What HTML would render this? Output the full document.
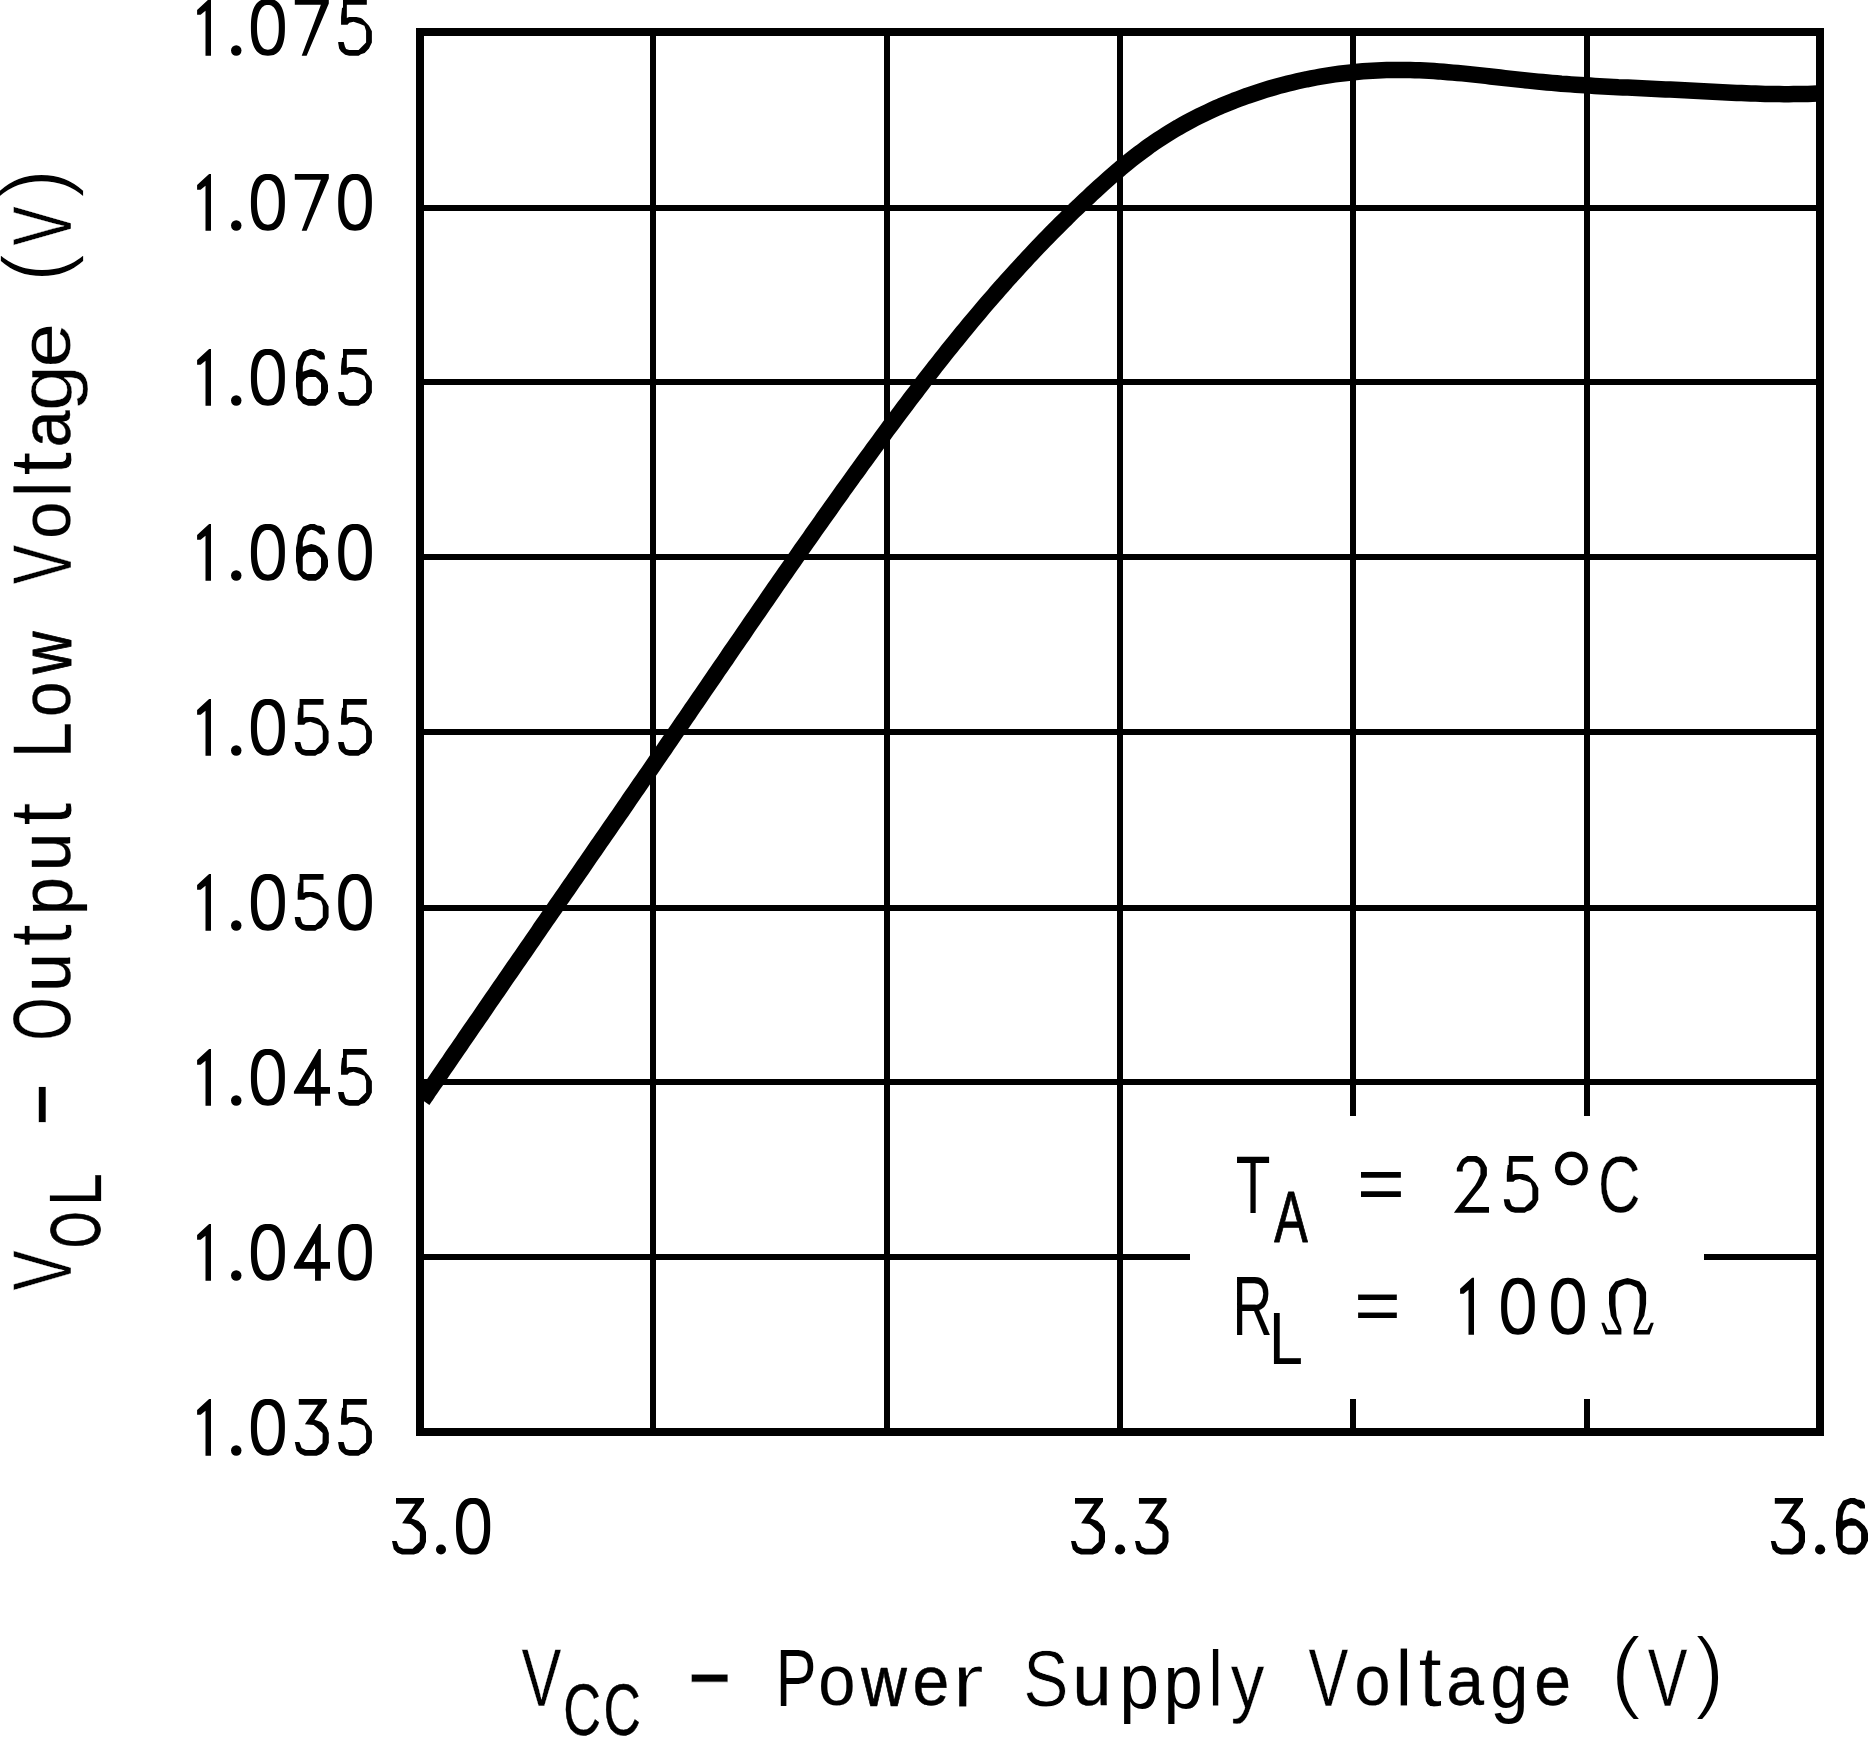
<!DOCTYPE html>
<html><head><meta charset="utf-8"><title>VOL vs VCC</title>
<style>
html,body{margin:0;padding:0;background:#fff;}
body{width:1868px;height:1737px;overflow:hidden;}
svg{display:block;}
text{font-family:"Liberation Sans",sans-serif;font-size:80.0px;fill:#000;}
</style></head><body>
<svg width="1868" height="1737" viewBox="0 0 1868 1737">
<rect x="0" y="0" width="1868" height="1737" fill="#fff"/>
<g fill="#000">
<rect x="650" y="32" width="6" height="1400"/>
<rect x="884" y="32" width="6" height="1400"/>
<rect x="1117" y="32" width="6" height="1400"/>
<rect x="1350" y="32" width="6" height="1084"/>
<rect x="1350" y="1399" width="6" height="33"/>
<rect x="1584" y="32" width="6" height="1084"/>
<rect x="1584" y="1399" width="6" height="33"/>
<rect x="420" y="205" width="1400" height="6"/>
<rect x="420" y="379" width="1400" height="6"/>
<rect x="420" y="554" width="1400" height="6"/>
<rect x="420" y="729" width="1400" height="6"/>
<rect x="420" y="905" width="1400" height="6"/>
<rect x="420" y="1079" width="1400" height="6"/>
<rect x="420" y="1254" width="770" height="6"/>
<rect x="1704" y="1254" width="116" height="6"/>
</g>
<path d="M422.6,1100.3 L425.3,1096.4 L427.9,1092.4 L430.6,1088.5 L433.3,1084.6 L436.0,1080.7 L438.6,1076.8 L441.3,1072.8 L444.0,1068.9 L446.7,1065.0 L449.4,1061.1 L452.0,1057.2 L454.7,1053.3 L457.4,1049.4 L460.1,1045.5 L462.8,1041.5 L465.4,1037.6 L468.1,1033.7 L470.8,1029.8 L473.5,1025.9 L476.2,1022.0 L478.9,1018.1 L481.6,1014.2 L484.2,1010.3 L486.9,1006.3 L489.6,1002.4 L492.3,998.5 L495.0,994.6 L497.7,990.7 L500.4,986.8 L503.1,982.9 L505.7,979.0 L508.4,975.1 L511.1,971.2 L513.8,967.3 L516.5,963.4 L519.2,959.5 L521.9,955.6 L524.6,951.7 L527.3,947.8 L530.0,943.9 L532.7,940.0 L535.4,936.0 L538.1,932.1 L540.7,928.2 L543.4,924.3 L546.1,920.4 L548.8,916.5 L551.5,912.6 L554.2,908.7 L556.9,904.8 L559.6,900.9 L562.3,897.0 L565.0,893.1 L567.7,889.2 L570.4,885.3 L573.1,881.4 L575.8,877.5 L578.5,873.6 L581.2,869.7 L583.9,865.8 L586.6,861.9 L589.2,858.0 L591.9,854.1 L594.6,850.2 L597.3,846.3 L600.0,842.4 L602.7,838.5 L605.4,834.6 L608.1,830.7 L610.8,826.8 L613.5,822.9 L616.2,819.0 L618.9,815.1 L621.6,811.2 L624.3,807.3 L627.0,803.3 L629.6,799.4 L632.3,795.5 L635.0,791.6 L637.7,787.7 L640.4,783.8 L643.1,779.9 L645.8,776.0 L648.5,772.1 L651.2,768.2 L653.9,764.3 L656.5,760.4 L659.2,756.5 L661.9,752.6 L664.6,748.7 L667.3,744.7 L670.0,740.8 L672.7,736.9 L675.3,733.0 L678.0,729.1 L680.7,725.2 L683.4,721.3 L686.1,717.4 L688.8,713.5 L691.4,709.5 L694.1,705.6 L696.8,701.7 L699.5,697.8 L702.2,693.9 L704.8,690.0 L707.5,686.1 L710.2,682.1 L712.9,678.2 L715.5,674.3 L718.2,670.4 L720.9,666.5 L723.6,662.6 L726.3,658.7 L728.9,654.7 L731.6,650.8 L734.3,646.9 L737.0,643.0 L739.7,639.1 L742.4,635.2 L745.0,631.3 L747.7,627.4 L750.4,623.4 L753.1,619.5 L755.8,615.6 L758.5,611.7 L761.2,607.8 L763.9,603.9 L766.6,600.0 L769.2,596.1 L771.9,592.2 L774.6,588.3 L777.3,584.4 L780.0,580.5 L782.7,576.6 L785.4,572.7 L788.2,568.8 L790.9,564.9 L793.6,561.0 L796.3,557.1 L799.0,553.2 L801.7,549.3 L804.4,545.5 L807.1,541.6 L809.9,537.7 L812.6,533.8 L815.3,529.9 L818.1,526.0 L820.8,522.2 L823.5,518.3 L826.3,514.4 L829.0,510.6 L831.7,506.7 L834.5,502.8 L837.2,499.0 L840.0,495.1 L842.7,491.2 L845.5,487.4 L848.3,483.5 L851.0,479.7 L853.8,475.8 L856.6,472.0 L859.4,468.1 L862.1,464.3 L864.9,460.5 L867.7,456.6 L870.5,452.8 L873.3,448.9 L876.1,445.1 L878.9,441.3 L881.7,437.5 L884.5,433.7 L887.3,429.8 L890.1,426.0 L893.0,422.2 L895.8,418.4 L898.6,414.6 L901.5,410.8 L904.3,407.0 L907.2,403.2 L910.0,399.4 L912.9,395.7 L915.8,391.9 L918.6,388.1 L921.5,384.4 L924.4,380.6 L927.3,376.8 L930.2,373.1 L933.1,369.4 L936.0,365.6 L939.0,361.9 L941.9,358.2 L944.8,354.5 L947.8,350.7 L950.8,347.0 L953.7,343.4 L956.7,339.7 L959.7,336.0 L962.7,332.3 L965.7,328.7 L968.7,325.0 L971.8,321.3 L974.8,317.7 L977.9,314.1 L980.9,310.5 L984.0,306.8 L987.1,303.2 L990.2,299.6 L993.3,296.1 L996.4,292.5 L999.5,288.9 L1002.7,285.4 L1005.8,281.8 L1009.0,278.3 L1012.2,274.8 L1015.4,271.2 L1018.6,267.7 L1021.8,264.2 L1025.0,260.8 L1028.2,257.3 L1031.5,253.8 L1034.7,250.4 L1038.0,246.9 L1041.3,243.5 L1044.6,240.1 L1047.9,236.7 L1051.2,233.3 L1054.6,229.9 L1057.9,226.6 L1061.3,223.2 L1064.7,219.9 L1068.0,216.5 L1071.4,213.2 L1074.8,209.9 L1078.3,206.7 L1081.7,203.4 L1085.2,200.1 L1088.6,196.9 L1092.1,193.6 L1095.6,190.4 L1099.1,187.2 L1102.6,184.0 L1106.1,180.9 L1109.7,177.7 L1113.2,174.6 L1116.8,171.5 L1120.4,168.4 L1124.1,165.4 L1127.7,162.4 L1131.4,159.4 L1135.1,156.5 L1138.9,153.6 L1142.7,150.8 L1146.5,148.0 L1150.3,145.2 L1154.2,142.5 L1158.1,139.9 L1162.1,137.3 L1166.1,134.8 L1170.1,132.3 L1174.2,129.8 L1178.2,127.4 L1182.4,125.1 L1186.5,122.8 L1190.7,120.5 L1194.9,118.3 L1199.1,116.2 L1203.4,114.1 L1207.6,112.1 L1212.0,110.1 L1216.3,108.1 L1220.6,106.2 L1225.0,104.4 L1229.4,102.6 L1233.8,100.8 L1238.3,99.1 L1242.7,97.5 L1247.2,95.8 L1251.7,94.3 L1256.2,92.8 L1260.7,91.3 L1265.2,89.9 L1269.8,88.5 L1274.3,87.2 L1278.9,85.9 L1283.5,84.7 L1288.1,83.5 L1292.7,82.4 L1297.4,81.3 L1302.0,80.3 L1306.6,79.3 L1311.3,78.4 L1316.0,77.5 L1320.6,76.7 L1325.3,75.9 L1330.0,75.1 L1334.7,74.4 L1339.4,73.8 L1344.1,73.2 L1348.8,72.7 L1353.5,72.2 L1358.3,71.7 L1363.0,71.3 L1367.7,71.0 L1372.4,70.7 L1377.2,70.4 L1381.9,70.2 L1386.6,70.1 L1391.4,70.0 L1396.1,69.9 L1400.8,69.9 L1405.6,69.9 L1410.3,70.0 L1415.0,70.2 L1419.8,70.3 L1424.5,70.6 L1429.2,70.8 L1433.9,71.1 L1438.7,71.4 L1443.4,71.8 L1448.1,72.2 L1452.8,72.6 L1457.6,73.0 L1462.3,73.4 L1467.0,73.9 L1471.7,74.4 L1476.4,74.9 L1481.2,75.4 L1485.9,75.9 L1490.6,76.5 L1495.3,77.0 L1500.0,77.5 L1504.8,78.1 L1509.5,78.6 L1514.2,79.1 L1518.9,79.6 L1523.7,80.1 L1528.4,80.6 L1533.1,81.1 L1537.8,81.6 L1542.5,82.0 L1547.3,82.5 L1552.0,82.9 L1556.7,83.3 L1561.4,83.7 L1566.2,84.0 L1570.9,84.4 L1575.6,84.7 L1580.4,85.0 L1585.1,85.3 L1589.8,85.6 L1594.6,85.9 L1599.3,86.2 L1604.0,86.4 L1608.8,86.7 L1613.5,86.9 L1618.2,87.2 L1623.0,87.4 L1627.7,87.6 L1632.4,87.8 L1637.2,88.1 L1641.9,88.3 L1646.6,88.5 L1651.4,88.7 L1656.1,88.9 L1660.8,89.2 L1665.6,89.4 L1670.3,89.6 L1675.0,89.8 L1679.8,90.1 L1684.5,90.3 L1689.3,90.5 L1694.0,90.8 L1698.7,91.0 L1703.5,91.3 L1708.2,91.5 L1713.0,91.8 L1717.7,92.0 L1722.4,92.2 L1727.2,92.5 L1731.9,92.7 L1736.7,92.9 L1741.4,93.1 L1746.1,93.3 L1750.9,93.5 L1755.6,93.6 L1760.4,93.8 L1765.1,93.9 L1769.8,94.0 L1774.6,94.1 L1779.3,94.1 L1784.1,94.2 L1788.8,94.2 L1793.5,94.1 L1798.3,94.1 L1803.0,94.0 L1807.8,93.9 L1812.5,93.8 L1817.3,93.6 L1822.0,93.4" fill="none" stroke="#000" stroke-width="16.5" stroke-linejoin="round"/>
<rect x="420" y="32" width="1400" height="1400" fill="none" stroke="#000" stroke-width="8"/>
<g fill="#000">
<path fill-rule="evenodd" d="M197.10,9.92 L209.10,-1.10 L211.00,-1.10 L211.00,55.70 L205.50,55.70 L205.50,10.72 L200.60,14.73 L197.10,14.73Z"/>
<circle cx="236.25" cy="50.45" r="5.25"/>
<path fill-rule="evenodd" d="M284.90,27.30 L284.85,31.33 L284.69,34.30 L284.43,36.93 L284.07,39.34 L283.61,41.56 L283.05,43.61 L282.39,45.51 L281.64,47.24 L280.78,48.82 L279.84,50.25 L278.80,51.51 L277.66,52.61 L276.44,53.55 L275.11,54.32 L273.67,54.92 L272.09,55.35 L270.31,55.61 L267.90,55.70 L265.49,55.61 L263.71,55.35 L262.13,54.92 L260.69,54.32 L259.36,53.55 L258.14,52.61 L257.00,51.51 L255.96,50.25 L255.02,48.82 L254.16,47.24 L253.41,45.51 L252.75,43.61 L252.19,41.56 L251.73,39.34 L251.37,36.93 L251.11,34.30 L250.95,31.33 L250.90,27.30 L250.95,23.27 L251.11,20.30 L251.37,17.67 L251.73,15.26 L252.19,13.04 L252.75,10.99 L253.41,9.09 L254.16,7.36 L255.02,5.78 L255.96,4.35 L257.00,3.09 L258.14,1.99 L259.36,1.05 L260.69,0.28 L262.13,-0.32 L263.71,-0.75 L265.49,-1.01 L267.90,-1.10 L270.31,-1.01 L272.09,-0.75 L273.67,-0.32 L275.11,0.28 L276.44,1.05 L277.66,1.99 L278.80,3.09 L279.84,4.35 L280.78,5.78 L281.64,7.36 L282.39,9.09 L283.05,10.99 L283.61,13.04 L284.07,15.26 L284.43,17.67 L284.69,20.30 L284.85,23.27ZM278.80,27.30 L278.76,29.98 L278.66,32.17 L278.48,34.20 L278.23,36.09 L277.91,37.86 L277.52,39.53 L277.06,41.08 L276.55,42.51 L275.96,43.83 L275.32,45.02 L274.62,46.08 L273.87,47.01 L273.05,47.81 L272.19,48.46 L271.27,48.98 L270.28,49.34 L269.21,49.57 L267.90,49.64 L266.59,49.57 L265.52,49.34 L264.53,48.98 L263.61,48.46 L262.75,47.81 L261.93,47.01 L261.18,46.08 L260.48,45.02 L259.84,43.83 L259.25,42.51 L258.74,41.08 L258.28,39.53 L257.89,37.86 L257.57,36.09 L257.32,34.20 L257.14,32.17 L257.04,29.98 L257.00,27.30 L257.04,24.62 L257.14,22.43 L257.32,20.40 L257.57,18.51 L257.89,16.74 L258.28,15.07 L258.74,13.52 L259.25,12.09 L259.84,10.77 L260.48,9.58 L261.18,8.52 L261.93,7.59 L262.75,6.79 L263.61,6.14 L264.53,5.62 L265.52,5.26 L266.59,5.03 L267.90,4.96 L269.21,5.03 L270.28,5.26 L271.27,5.62 L272.19,6.14 L273.05,6.79 L273.87,7.59 L274.62,8.52 L275.32,9.58 L275.96,10.77 L276.55,12.09 L277.06,13.52 L277.52,15.07 L277.91,16.74 L278.23,18.51 L278.48,20.40 L278.66,22.43 L278.76,24.62Z"/>
<path fill-rule="evenodd" d="M294.80,-1.10 L328.80,-1.10 L328.80,3.39 L306.63,55.70 L301.72,55.70 L320.88,4.81 L294.80,4.81Z"/>
<path fill-rule="evenodd" d="M342.99,-1.10 L366.81,-1.10 L366.81,4.66 L346.83,4.66 L346.83,17.95 L349.00,16.98 L356.46,16.98 L360.80,17.95 L362.49,18.92 L368.98,25.68 L371.87,31.24 L371.87,42.60 L368.98,48.40 L364.64,53.00 L360.80,54.20 L358.63,55.66 L349.24,55.66 L345.15,54.69 L341.06,51.55 L339.13,48.40 L338.20,43.09 L338.20,42.12 L343.71,42.12 L344.91,46.47 L346.12,48.89 L349.24,50.10 L358.63,50.10 L366.09,42.60 L366.09,31.00 L364.40,25.68 L359.59,23.76 L356.46,22.78 L353.57,21.82 L349.24,22.78 L347.55,24.72 L341.06,24.72 L341.06,16.98 L342.02,7.80 L342.99,7.80Z"/>
<path fill-rule="evenodd" d="M197.10,184.92 L209.10,173.90 L211.00,173.90 L211.00,230.70 L205.50,230.70 L205.50,185.72 L200.60,189.73 L197.10,189.73Z"/>
<circle cx="236.25" cy="225.45" r="5.25"/>
<path fill-rule="evenodd" d="M284.90,202.30 L284.85,206.33 L284.69,209.30 L284.43,211.93 L284.07,214.34 L283.61,216.56 L283.05,218.61 L282.39,220.51 L281.64,222.24 L280.78,223.82 L279.84,225.25 L278.80,226.51 L277.66,227.61 L276.44,228.55 L275.11,229.32 L273.67,229.92 L272.09,230.35 L270.31,230.61 L267.90,230.70 L265.49,230.61 L263.71,230.35 L262.13,229.92 L260.69,229.32 L259.36,228.55 L258.14,227.61 L257.00,226.51 L255.96,225.25 L255.02,223.82 L254.16,222.24 L253.41,220.51 L252.75,218.61 L252.19,216.56 L251.73,214.34 L251.37,211.93 L251.11,209.30 L250.95,206.33 L250.90,202.30 L250.95,198.27 L251.11,195.30 L251.37,192.67 L251.73,190.26 L252.19,188.04 L252.75,185.99 L253.41,184.09 L254.16,182.36 L255.02,180.78 L255.96,179.35 L257.00,178.09 L258.14,176.99 L259.36,176.05 L260.69,175.28 L262.13,174.68 L263.71,174.25 L265.49,173.99 L267.90,173.90 L270.31,173.99 L272.09,174.25 L273.67,174.68 L275.11,175.28 L276.44,176.05 L277.66,176.99 L278.80,178.09 L279.84,179.35 L280.78,180.78 L281.64,182.36 L282.39,184.09 L283.05,185.99 L283.61,188.04 L284.07,190.26 L284.43,192.67 L284.69,195.30 L284.85,198.27ZM278.80,202.30 L278.76,204.98 L278.66,207.17 L278.48,209.20 L278.23,211.09 L277.91,212.86 L277.52,214.53 L277.06,216.08 L276.55,217.51 L275.96,218.83 L275.32,220.02 L274.62,221.08 L273.87,222.01 L273.05,222.81 L272.19,223.46 L271.27,223.98 L270.28,224.34 L269.21,224.57 L267.90,224.64 L266.59,224.57 L265.52,224.34 L264.53,223.98 L263.61,223.46 L262.75,222.81 L261.93,222.01 L261.18,221.08 L260.48,220.02 L259.84,218.83 L259.25,217.51 L258.74,216.08 L258.28,214.53 L257.89,212.86 L257.57,211.09 L257.32,209.20 L257.14,207.17 L257.04,204.98 L257.00,202.30 L257.04,199.62 L257.14,197.43 L257.32,195.40 L257.57,193.51 L257.89,191.74 L258.28,190.07 L258.74,188.52 L259.25,187.09 L259.84,185.77 L260.48,184.58 L261.18,183.52 L261.93,182.59 L262.75,181.79 L263.61,181.14 L264.53,180.62 L265.52,180.26 L266.59,180.03 L267.90,179.96 L269.21,180.03 L270.28,180.26 L271.27,180.62 L272.19,181.14 L273.05,181.79 L273.87,182.59 L274.62,183.52 L275.32,184.58 L275.96,185.77 L276.55,187.09 L277.06,188.52 L277.52,190.07 L277.91,191.74 L278.23,193.51 L278.48,195.40 L278.66,197.43 L278.76,199.62Z"/>
<path fill-rule="evenodd" d="M294.80,173.90 L328.80,173.90 L328.80,178.39 L306.63,230.70 L301.72,230.70 L320.88,179.81 L294.80,179.81Z"/>
<path fill-rule="evenodd" d="M371.90,202.30 L371.85,206.33 L371.69,209.30 L371.44,211.93 L371.08,214.34 L370.62,216.56 L370.07,218.61 L369.41,220.51 L368.66,222.24 L367.82,223.82 L366.88,225.25 L365.85,226.51 L364.73,227.61 L363.51,228.55 L362.19,229.32 L360.76,229.92 L359.20,230.35 L357.44,230.61 L355.05,230.70 L352.66,230.61 L350.90,230.35 L349.34,229.92 L347.91,229.32 L346.59,228.55 L345.37,227.61 L344.25,226.51 L343.22,225.25 L342.28,223.82 L341.44,222.24 L340.69,220.51 L340.03,218.61 L339.48,216.56 L339.02,214.34 L338.66,211.93 L338.41,209.30 L338.25,206.33 L338.20,202.30 L338.25,198.27 L338.41,195.30 L338.66,192.67 L339.02,190.26 L339.48,188.04 L340.03,185.99 L340.69,184.09 L341.44,182.36 L342.28,180.78 L343.22,179.35 L344.25,178.09 L345.37,176.99 L346.59,176.05 L347.91,175.28 L349.34,174.68 L350.90,174.25 L352.66,173.99 L355.05,173.90 L357.44,173.99 L359.20,174.25 L360.76,174.68 L362.19,175.28 L363.51,176.05 L364.73,176.99 L365.85,178.09 L366.88,179.35 L367.82,180.78 L368.66,182.36 L369.41,184.09 L370.07,185.99 L370.62,188.04 L371.08,190.26 L371.44,192.67 L371.69,195.30 L371.85,198.27ZM365.85,202.30 L365.82,204.98 L365.71,207.17 L365.53,209.20 L365.28,211.09 L364.97,212.86 L364.58,214.53 L364.13,216.08 L363.62,217.51 L363.04,218.83 L362.41,220.02 L361.71,221.08 L360.96,222.01 L360.16,222.81 L359.30,223.46 L358.39,223.98 L357.41,224.34 L356.34,224.57 L355.05,224.64 L353.76,224.57 L352.69,224.34 L351.71,223.98 L350.80,223.46 L349.94,222.81 L349.14,222.01 L348.39,221.08 L347.69,220.02 L347.06,218.83 L346.48,217.51 L345.97,216.08 L345.52,214.53 L345.13,212.86 L344.82,211.09 L344.57,209.20 L344.39,207.17 L344.28,204.98 L344.25,202.30 L344.28,199.62 L344.39,197.43 L344.57,195.40 L344.82,193.51 L345.13,191.74 L345.52,190.07 L345.97,188.52 L346.48,187.09 L347.06,185.77 L347.69,184.58 L348.39,183.52 L349.14,182.59 L349.94,181.79 L350.80,181.14 L351.71,180.62 L352.69,180.26 L353.76,180.03 L355.05,179.96 L356.34,180.03 L357.41,180.26 L358.39,180.62 L359.30,181.14 L360.16,181.79 L360.96,182.59 L361.71,183.52 L362.41,184.58 L363.04,185.77 L363.62,187.09 L364.13,188.52 L364.58,190.07 L364.97,191.74 L365.28,193.51 L365.53,195.40 L365.71,197.43 L365.82,199.62Z"/>
<path fill-rule="evenodd" d="M197.10,359.92 L209.10,348.90 L211.00,348.90 L211.00,405.70 L205.50,405.70 L205.50,360.72 L200.60,364.73 L197.10,364.73Z"/>
<circle cx="236.25" cy="400.45" r="5.25"/>
<path fill-rule="evenodd" d="M284.90,377.30 L284.85,381.33 L284.69,384.30 L284.43,386.93 L284.07,389.34 L283.61,391.56 L283.05,393.61 L282.39,395.51 L281.64,397.24 L280.78,398.82 L279.84,400.25 L278.80,401.51 L277.66,402.61 L276.44,403.55 L275.11,404.32 L273.67,404.92 L272.09,405.35 L270.31,405.61 L267.90,405.70 L265.49,405.61 L263.71,405.35 L262.13,404.92 L260.69,404.32 L259.36,403.55 L258.14,402.61 L257.00,401.51 L255.96,400.25 L255.02,398.82 L254.16,397.24 L253.41,395.51 L252.75,393.61 L252.19,391.56 L251.73,389.34 L251.37,386.93 L251.11,384.30 L250.95,381.33 L250.90,377.30 L250.95,373.27 L251.11,370.30 L251.37,367.67 L251.73,365.26 L252.19,363.04 L252.75,360.99 L253.41,359.09 L254.16,357.36 L255.02,355.78 L255.96,354.35 L257.00,353.09 L258.14,351.99 L259.36,351.05 L260.69,350.28 L262.13,349.68 L263.71,349.25 L265.49,348.99 L267.90,348.90 L270.31,348.99 L272.09,349.25 L273.67,349.68 L275.11,350.28 L276.44,351.05 L277.66,351.99 L278.80,353.09 L279.84,354.35 L280.78,355.78 L281.64,357.36 L282.39,359.09 L283.05,360.99 L283.61,363.04 L284.07,365.26 L284.43,367.67 L284.69,370.30 L284.85,373.27ZM278.80,377.30 L278.76,379.98 L278.66,382.17 L278.48,384.20 L278.23,386.09 L277.91,387.86 L277.52,389.53 L277.06,391.08 L276.55,392.51 L275.96,393.83 L275.32,395.02 L274.62,396.08 L273.87,397.01 L273.05,397.81 L272.19,398.46 L271.27,398.98 L270.28,399.34 L269.21,399.57 L267.90,399.64 L266.59,399.57 L265.52,399.34 L264.53,398.98 L263.61,398.46 L262.75,397.81 L261.93,397.01 L261.18,396.08 L260.48,395.02 L259.84,393.83 L259.25,392.51 L258.74,391.08 L258.28,389.53 L257.89,387.86 L257.57,386.09 L257.32,384.20 L257.14,382.17 L257.04,379.98 L257.00,377.30 L257.04,374.62 L257.14,372.43 L257.32,370.40 L257.57,368.51 L257.89,366.74 L258.28,365.07 L258.74,363.52 L259.25,362.09 L259.84,360.77 L260.48,359.58 L261.18,358.52 L261.93,357.59 L262.75,356.79 L263.61,356.14 L264.53,355.62 L265.52,355.26 L266.59,355.03 L267.90,354.96 L269.21,355.03 L270.28,355.26 L271.27,355.62 L272.19,356.14 L273.05,356.79 L273.87,357.59 L274.62,358.52 L275.32,359.58 L275.96,360.77 L276.55,362.09 L277.06,363.52 L277.52,365.07 L277.91,366.74 L278.23,368.51 L278.48,370.40 L278.66,372.43 L278.76,374.62Z"/>
<path fill-rule="evenodd" d="M310.21,348.90 L314.54,348.90 L317.43,350.55 L320.79,351.04 L323.68,352.96 L324.87,356.35 L324.87,359.50 L320.06,359.50 L316.22,356.35 L313.57,355.14 L311.18,354.66 L306.84,356.59 L303.96,362.15 L302.75,366.98 L302.75,371.82 L304.92,371.10 L311.18,368.92 L315.50,370.12 L319.58,372.30 L324.64,377.14 L327.04,381.00 L328.00,385.36 L328.00,391.64 L326.55,394.54 L324.64,398.65 L319.58,403.72 L315.74,405.66 L308.28,405.66 L302.99,403.72 L297.95,397.92 L297.23,391.64 L296.02,386.32 L296.02,372.78 L297.23,366.98 L297.95,360.22 L299.86,357.08 L302.99,351.76 L308.28,349.82ZM311.42,376.90 L315.74,376.90 L319.34,380.51 L321.03,382.94 L321.03,392.60 L319.58,395.02 L315.74,398.89 L307.32,398.89 L302.75,395.74 L302.75,386.32 L302.75,381.97 L304.92,379.07 L308.28,376.90Z"/>
<path fill-rule="evenodd" d="M342.99,348.90 L366.81,348.90 L366.81,354.66 L346.83,354.66 L346.83,367.95 L349.00,366.98 L356.46,366.98 L360.80,367.95 L362.49,368.92 L368.98,375.68 L371.87,381.24 L371.87,392.60 L368.98,398.40 L364.64,403.00 L360.80,404.20 L358.63,405.66 L349.24,405.66 L345.15,404.69 L341.06,401.55 L339.13,398.40 L338.20,393.09 L338.20,392.12 L343.71,392.12 L344.91,396.47 L346.12,398.89 L349.24,400.10 L358.63,400.10 L366.09,392.60 L366.09,381.00 L364.40,375.68 L359.59,373.76 L356.46,372.78 L353.57,371.82 L349.24,372.78 L347.55,374.72 L341.06,374.72 L341.06,366.98 L342.02,357.80 L342.99,357.80Z"/>
<path fill-rule="evenodd" d="M197.10,534.92 L209.10,523.90 L211.00,523.90 L211.00,580.70 L205.50,580.70 L205.50,535.72 L200.60,539.73 L197.10,539.73Z"/>
<circle cx="236.25" cy="575.45" r="5.25"/>
<path fill-rule="evenodd" d="M284.90,552.30 L284.85,556.33 L284.69,559.30 L284.43,561.93 L284.07,564.34 L283.61,566.56 L283.05,568.61 L282.39,570.51 L281.64,572.24 L280.78,573.82 L279.84,575.25 L278.80,576.51 L277.66,577.61 L276.44,578.55 L275.11,579.32 L273.67,579.92 L272.09,580.35 L270.31,580.61 L267.90,580.70 L265.49,580.61 L263.71,580.35 L262.13,579.92 L260.69,579.32 L259.36,578.55 L258.14,577.61 L257.00,576.51 L255.96,575.25 L255.02,573.82 L254.16,572.24 L253.41,570.51 L252.75,568.61 L252.19,566.56 L251.73,564.34 L251.37,561.93 L251.11,559.30 L250.95,556.33 L250.90,552.30 L250.95,548.27 L251.11,545.30 L251.37,542.67 L251.73,540.26 L252.19,538.04 L252.75,535.99 L253.41,534.09 L254.16,532.36 L255.02,530.78 L255.96,529.35 L257.00,528.09 L258.14,526.99 L259.36,526.05 L260.69,525.28 L262.13,524.68 L263.71,524.25 L265.49,523.99 L267.90,523.90 L270.31,523.99 L272.09,524.25 L273.67,524.68 L275.11,525.28 L276.44,526.05 L277.66,526.99 L278.80,528.09 L279.84,529.35 L280.78,530.78 L281.64,532.36 L282.39,534.09 L283.05,535.99 L283.61,538.04 L284.07,540.26 L284.43,542.67 L284.69,545.30 L284.85,548.27ZM278.80,552.30 L278.76,554.98 L278.66,557.17 L278.48,559.20 L278.23,561.09 L277.91,562.86 L277.52,564.53 L277.06,566.08 L276.55,567.51 L275.96,568.83 L275.32,570.02 L274.62,571.08 L273.87,572.01 L273.05,572.81 L272.19,573.46 L271.27,573.98 L270.28,574.34 L269.21,574.57 L267.90,574.64 L266.59,574.57 L265.52,574.34 L264.53,573.98 L263.61,573.46 L262.75,572.81 L261.93,572.01 L261.18,571.08 L260.48,570.02 L259.84,568.83 L259.25,567.51 L258.74,566.08 L258.28,564.53 L257.89,562.86 L257.57,561.09 L257.32,559.20 L257.14,557.17 L257.04,554.98 L257.00,552.30 L257.04,549.62 L257.14,547.43 L257.32,545.40 L257.57,543.51 L257.89,541.74 L258.28,540.07 L258.74,538.52 L259.25,537.09 L259.84,535.77 L260.48,534.58 L261.18,533.52 L261.93,532.59 L262.75,531.79 L263.61,531.14 L264.53,530.62 L265.52,530.26 L266.59,530.03 L267.90,529.96 L269.21,530.03 L270.28,530.26 L271.27,530.62 L272.19,531.14 L273.05,531.79 L273.87,532.59 L274.62,533.52 L275.32,534.58 L275.96,535.77 L276.55,537.09 L277.06,538.52 L277.52,540.07 L277.91,541.74 L278.23,543.51 L278.48,545.40 L278.66,547.43 L278.76,549.62Z"/>
<path fill-rule="evenodd" d="M310.21,523.90 L314.54,523.90 L317.43,525.55 L320.79,526.04 L323.68,527.96 L324.87,531.35 L324.87,534.50 L320.06,534.50 L316.22,531.35 L313.57,530.14 L311.18,529.66 L306.84,531.59 L303.96,537.15 L302.75,541.98 L302.75,546.82 L304.92,546.10 L311.18,543.92 L315.50,545.12 L319.58,547.30 L324.64,552.14 L327.04,556.00 L328.00,560.36 L328.00,566.64 L326.55,569.54 L324.64,573.65 L319.58,578.72 L315.74,580.66 L308.28,580.66 L302.99,578.72 L297.95,572.92 L297.23,566.64 L296.02,561.32 L296.02,547.78 L297.23,541.98 L297.95,535.22 L299.86,532.08 L302.99,526.76 L308.28,524.82ZM311.42,551.90 L315.74,551.90 L319.34,555.51 L321.03,557.94 L321.03,567.60 L319.58,570.02 L315.74,573.89 L307.32,573.89 L302.75,570.74 L302.75,561.32 L302.75,556.97 L304.92,554.07 L308.28,551.90Z"/>
<path fill-rule="evenodd" d="M371.90,552.30 L371.85,556.33 L371.69,559.30 L371.44,561.93 L371.08,564.34 L370.62,566.56 L370.07,568.61 L369.41,570.51 L368.66,572.24 L367.82,573.82 L366.88,575.25 L365.85,576.51 L364.73,577.61 L363.51,578.55 L362.19,579.32 L360.76,579.92 L359.20,580.35 L357.44,580.61 L355.05,580.70 L352.66,580.61 L350.90,580.35 L349.34,579.92 L347.91,579.32 L346.59,578.55 L345.37,577.61 L344.25,576.51 L343.22,575.25 L342.28,573.82 L341.44,572.24 L340.69,570.51 L340.03,568.61 L339.48,566.56 L339.02,564.34 L338.66,561.93 L338.41,559.30 L338.25,556.33 L338.20,552.30 L338.25,548.27 L338.41,545.30 L338.66,542.67 L339.02,540.26 L339.48,538.04 L340.03,535.99 L340.69,534.09 L341.44,532.36 L342.28,530.78 L343.22,529.35 L344.25,528.09 L345.37,526.99 L346.59,526.05 L347.91,525.28 L349.34,524.68 L350.90,524.25 L352.66,523.99 L355.05,523.90 L357.44,523.99 L359.20,524.25 L360.76,524.68 L362.19,525.28 L363.51,526.05 L364.73,526.99 L365.85,528.09 L366.88,529.35 L367.82,530.78 L368.66,532.36 L369.41,534.09 L370.07,535.99 L370.62,538.04 L371.08,540.26 L371.44,542.67 L371.69,545.30 L371.85,548.27ZM365.85,552.30 L365.82,554.98 L365.71,557.17 L365.53,559.20 L365.28,561.09 L364.97,562.86 L364.58,564.53 L364.13,566.08 L363.62,567.51 L363.04,568.83 L362.41,570.02 L361.71,571.08 L360.96,572.01 L360.16,572.81 L359.30,573.46 L358.39,573.98 L357.41,574.34 L356.34,574.57 L355.05,574.64 L353.76,574.57 L352.69,574.34 L351.71,573.98 L350.80,573.46 L349.94,572.81 L349.14,572.01 L348.39,571.08 L347.69,570.02 L347.06,568.83 L346.48,567.51 L345.97,566.08 L345.52,564.53 L345.13,562.86 L344.82,561.09 L344.57,559.20 L344.39,557.17 L344.28,554.98 L344.25,552.30 L344.28,549.62 L344.39,547.43 L344.57,545.40 L344.82,543.51 L345.13,541.74 L345.52,540.07 L345.97,538.52 L346.48,537.09 L347.06,535.77 L347.69,534.58 L348.39,533.52 L349.14,532.59 L349.94,531.79 L350.80,531.14 L351.71,530.62 L352.69,530.26 L353.76,530.03 L355.05,529.96 L356.34,530.03 L357.41,530.26 L358.39,530.62 L359.30,531.14 L360.16,531.79 L360.96,532.59 L361.71,533.52 L362.41,534.58 L363.04,535.77 L363.62,537.09 L364.13,538.52 L364.58,540.07 L364.97,541.74 L365.28,543.51 L365.53,545.40 L365.71,547.43 L365.82,549.62Z"/>
<path fill-rule="evenodd" d="M197.10,709.92 L209.10,698.90 L211.00,698.90 L211.00,755.70 L205.50,755.70 L205.50,710.72 L200.60,714.73 L197.10,714.73Z"/>
<circle cx="236.25" cy="750.45" r="5.25"/>
<path fill-rule="evenodd" d="M284.90,727.30 L284.85,731.33 L284.69,734.30 L284.43,736.93 L284.07,739.34 L283.61,741.56 L283.05,743.61 L282.39,745.51 L281.64,747.24 L280.78,748.82 L279.84,750.25 L278.80,751.51 L277.66,752.61 L276.44,753.55 L275.11,754.32 L273.67,754.92 L272.09,755.35 L270.31,755.61 L267.90,755.70 L265.49,755.61 L263.71,755.35 L262.13,754.92 L260.69,754.32 L259.36,753.55 L258.14,752.61 L257.00,751.51 L255.96,750.25 L255.02,748.82 L254.16,747.24 L253.41,745.51 L252.75,743.61 L252.19,741.56 L251.73,739.34 L251.37,736.93 L251.11,734.30 L250.95,731.33 L250.90,727.30 L250.95,723.27 L251.11,720.30 L251.37,717.67 L251.73,715.26 L252.19,713.04 L252.75,710.99 L253.41,709.09 L254.16,707.36 L255.02,705.78 L255.96,704.35 L257.00,703.09 L258.14,701.99 L259.36,701.05 L260.69,700.28 L262.13,699.68 L263.71,699.25 L265.49,698.99 L267.90,698.90 L270.31,698.99 L272.09,699.25 L273.67,699.68 L275.11,700.28 L276.44,701.05 L277.66,701.99 L278.80,703.09 L279.84,704.35 L280.78,705.78 L281.64,707.36 L282.39,709.09 L283.05,710.99 L283.61,713.04 L284.07,715.26 L284.43,717.67 L284.69,720.30 L284.85,723.27ZM278.80,727.30 L278.76,729.98 L278.66,732.17 L278.48,734.20 L278.23,736.09 L277.91,737.86 L277.52,739.53 L277.06,741.08 L276.55,742.51 L275.96,743.83 L275.32,745.02 L274.62,746.08 L273.87,747.01 L273.05,747.81 L272.19,748.46 L271.27,748.98 L270.28,749.34 L269.21,749.57 L267.90,749.64 L266.59,749.57 L265.52,749.34 L264.53,748.98 L263.61,748.46 L262.75,747.81 L261.93,747.01 L261.18,746.08 L260.48,745.02 L259.84,743.83 L259.25,742.51 L258.74,741.08 L258.28,739.53 L257.89,737.86 L257.57,736.09 L257.32,734.20 L257.14,732.17 L257.04,729.98 L257.00,727.30 L257.04,724.62 L257.14,722.43 L257.32,720.40 L257.57,718.51 L257.89,716.74 L258.28,715.07 L258.74,713.52 L259.25,712.09 L259.84,710.77 L260.48,709.58 L261.18,708.52 L261.93,707.59 L262.75,706.79 L263.61,706.14 L264.53,705.62 L265.52,705.26 L266.59,705.03 L267.90,704.96 L269.21,705.03 L270.28,705.26 L271.27,705.62 L272.19,706.14 L273.05,706.79 L273.87,707.59 L274.62,708.52 L275.32,709.58 L275.96,710.77 L276.55,712.09 L277.06,713.52 L277.52,715.07 L277.91,716.74 L278.23,718.51 L278.48,720.40 L278.66,722.43 L278.76,724.62Z"/>
<path fill-rule="evenodd" d="M299.60,698.90 L323.50,698.90 L323.50,704.66 L303.46,704.66 L303.46,717.95 L305.64,716.98 L313.11,716.98 L317.46,717.95 L319.16,718.92 L325.67,725.68 L328.57,731.24 L328.57,742.60 L325.67,748.40 L321.32,753.00 L317.46,754.20 L315.29,755.66 L305.88,755.66 L301.77,754.69 L297.67,751.55 L295.73,748.40 L294.80,743.09 L294.80,742.12 L300.32,742.12 L301.53,746.47 L302.74,748.89 L305.88,750.10 L315.29,750.10 L322.78,742.60 L322.78,731.00 L321.08,725.68 L316.25,723.76 L313.11,722.78 L310.22,721.82 L305.88,722.78 L304.18,724.72 L297.67,724.72 L297.67,716.98 L298.63,707.80 L299.60,707.80Z"/>
<path fill-rule="evenodd" d="M342.99,698.90 L366.81,698.90 L366.81,704.66 L346.83,704.66 L346.83,717.95 L349.00,716.98 L356.46,716.98 L360.80,717.95 L362.49,718.92 L368.98,725.68 L371.87,731.24 L371.87,742.60 L368.98,748.40 L364.64,753.00 L360.80,754.20 L358.63,755.66 L349.24,755.66 L345.15,754.69 L341.06,751.55 L339.13,748.40 L338.20,743.09 L338.20,742.12 L343.71,742.12 L344.91,746.47 L346.12,748.89 L349.24,750.10 L358.63,750.10 L366.09,742.60 L366.09,731.00 L364.40,725.68 L359.59,723.76 L356.46,722.78 L353.57,721.82 L349.24,722.78 L347.55,724.72 L341.06,724.72 L341.06,716.98 L342.02,707.80 L342.99,707.80Z"/>
<path fill-rule="evenodd" d="M197.10,884.92 L209.10,873.90 L211.00,873.90 L211.00,930.70 L205.50,930.70 L205.50,885.72 L200.60,889.73 L197.10,889.73Z"/>
<circle cx="236.25" cy="925.45" r="5.25"/>
<path fill-rule="evenodd" d="M284.90,902.30 L284.85,906.33 L284.69,909.30 L284.43,911.93 L284.07,914.34 L283.61,916.56 L283.05,918.61 L282.39,920.51 L281.64,922.24 L280.78,923.82 L279.84,925.25 L278.80,926.51 L277.66,927.61 L276.44,928.55 L275.11,929.32 L273.67,929.92 L272.09,930.35 L270.31,930.61 L267.90,930.70 L265.49,930.61 L263.71,930.35 L262.13,929.92 L260.69,929.32 L259.36,928.55 L258.14,927.61 L257.00,926.51 L255.96,925.25 L255.02,923.82 L254.16,922.24 L253.41,920.51 L252.75,918.61 L252.19,916.56 L251.73,914.34 L251.37,911.93 L251.11,909.30 L250.95,906.33 L250.90,902.30 L250.95,898.27 L251.11,895.30 L251.37,892.67 L251.73,890.26 L252.19,888.04 L252.75,885.99 L253.41,884.09 L254.16,882.36 L255.02,880.78 L255.96,879.35 L257.00,878.09 L258.14,876.99 L259.36,876.05 L260.69,875.28 L262.13,874.68 L263.71,874.25 L265.49,873.99 L267.90,873.90 L270.31,873.99 L272.09,874.25 L273.67,874.68 L275.11,875.28 L276.44,876.05 L277.66,876.99 L278.80,878.09 L279.84,879.35 L280.78,880.78 L281.64,882.36 L282.39,884.09 L283.05,885.99 L283.61,888.04 L284.07,890.26 L284.43,892.67 L284.69,895.30 L284.85,898.27ZM278.80,902.30 L278.76,904.98 L278.66,907.17 L278.48,909.20 L278.23,911.09 L277.91,912.86 L277.52,914.53 L277.06,916.08 L276.55,917.51 L275.96,918.83 L275.32,920.02 L274.62,921.08 L273.87,922.01 L273.05,922.81 L272.19,923.46 L271.27,923.98 L270.28,924.34 L269.21,924.57 L267.90,924.64 L266.59,924.57 L265.52,924.34 L264.53,923.98 L263.61,923.46 L262.75,922.81 L261.93,922.01 L261.18,921.08 L260.48,920.02 L259.84,918.83 L259.25,917.51 L258.74,916.08 L258.28,914.53 L257.89,912.86 L257.57,911.09 L257.32,909.20 L257.14,907.17 L257.04,904.98 L257.00,902.30 L257.04,899.62 L257.14,897.43 L257.32,895.40 L257.57,893.51 L257.89,891.74 L258.28,890.07 L258.74,888.52 L259.25,887.09 L259.84,885.77 L260.48,884.58 L261.18,883.52 L261.93,882.59 L262.75,881.79 L263.61,881.14 L264.53,880.62 L265.52,880.26 L266.59,880.03 L267.90,879.96 L269.21,880.03 L270.28,880.26 L271.27,880.62 L272.19,881.14 L273.05,881.79 L273.87,882.59 L274.62,883.52 L275.32,884.58 L275.96,885.77 L276.55,887.09 L277.06,888.52 L277.52,890.07 L277.91,891.74 L278.23,893.51 L278.48,895.40 L278.66,897.43 L278.76,899.62Z"/>
<path fill-rule="evenodd" d="M299.60,873.90 L323.50,873.90 L323.50,879.66 L303.46,879.66 L303.46,892.95 L305.64,891.98 L313.11,891.98 L317.46,892.95 L319.16,893.92 L325.67,900.68 L328.57,906.24 L328.57,917.60 L325.67,923.40 L321.32,928.00 L317.46,929.20 L315.29,930.66 L305.88,930.66 L301.77,929.69 L297.67,926.55 L295.73,923.40 L294.80,918.09 L294.80,917.12 L300.32,917.12 L301.53,921.47 L302.74,923.89 L305.88,925.10 L315.29,925.10 L322.78,917.60 L322.78,906.00 L321.08,900.68 L316.25,898.76 L313.11,897.78 L310.22,896.82 L305.88,897.78 L304.18,899.72 L297.67,899.72 L297.67,891.98 L298.63,882.80 L299.60,882.80Z"/>
<path fill-rule="evenodd" d="M371.90,902.30 L371.85,906.33 L371.69,909.30 L371.44,911.93 L371.08,914.34 L370.62,916.56 L370.07,918.61 L369.41,920.51 L368.66,922.24 L367.82,923.82 L366.88,925.25 L365.85,926.51 L364.73,927.61 L363.51,928.55 L362.19,929.32 L360.76,929.92 L359.20,930.35 L357.44,930.61 L355.05,930.70 L352.66,930.61 L350.90,930.35 L349.34,929.92 L347.91,929.32 L346.59,928.55 L345.37,927.61 L344.25,926.51 L343.22,925.25 L342.28,923.82 L341.44,922.24 L340.69,920.51 L340.03,918.61 L339.48,916.56 L339.02,914.34 L338.66,911.93 L338.41,909.30 L338.25,906.33 L338.20,902.30 L338.25,898.27 L338.41,895.30 L338.66,892.67 L339.02,890.26 L339.48,888.04 L340.03,885.99 L340.69,884.09 L341.44,882.36 L342.28,880.78 L343.22,879.35 L344.25,878.09 L345.37,876.99 L346.59,876.05 L347.91,875.28 L349.34,874.68 L350.90,874.25 L352.66,873.99 L355.05,873.90 L357.44,873.99 L359.20,874.25 L360.76,874.68 L362.19,875.28 L363.51,876.05 L364.73,876.99 L365.85,878.09 L366.88,879.35 L367.82,880.78 L368.66,882.36 L369.41,884.09 L370.07,885.99 L370.62,888.04 L371.08,890.26 L371.44,892.67 L371.69,895.30 L371.85,898.27ZM365.85,902.30 L365.82,904.98 L365.71,907.17 L365.53,909.20 L365.28,911.09 L364.97,912.86 L364.58,914.53 L364.13,916.08 L363.62,917.51 L363.04,918.83 L362.41,920.02 L361.71,921.08 L360.96,922.01 L360.16,922.81 L359.30,923.46 L358.39,923.98 L357.41,924.34 L356.34,924.57 L355.05,924.64 L353.76,924.57 L352.69,924.34 L351.71,923.98 L350.80,923.46 L349.94,922.81 L349.14,922.01 L348.39,921.08 L347.69,920.02 L347.06,918.83 L346.48,917.51 L345.97,916.08 L345.52,914.53 L345.13,912.86 L344.82,911.09 L344.57,909.20 L344.39,907.17 L344.28,904.98 L344.25,902.30 L344.28,899.62 L344.39,897.43 L344.57,895.40 L344.82,893.51 L345.13,891.74 L345.52,890.07 L345.97,888.52 L346.48,887.09 L347.06,885.77 L347.69,884.58 L348.39,883.52 L349.14,882.59 L349.94,881.79 L350.80,881.14 L351.71,880.62 L352.69,880.26 L353.76,880.03 L355.05,879.96 L356.34,880.03 L357.41,880.26 L358.39,880.62 L359.30,881.14 L360.16,881.79 L360.96,882.59 L361.71,883.52 L362.41,884.58 L363.04,885.77 L363.62,887.09 L364.13,888.52 L364.58,890.07 L364.97,891.74 L365.28,893.51 L365.53,895.40 L365.71,897.43 L365.82,899.62Z"/>
<path fill-rule="evenodd" d="M197.10,1059.92 L209.10,1048.90 L211.00,1048.90 L211.00,1105.70 L205.50,1105.70 L205.50,1060.72 L200.60,1064.73 L197.10,1064.73Z"/>
<circle cx="236.25" cy="1100.45" r="5.25"/>
<path fill-rule="evenodd" d="M284.90,1077.30 L284.85,1081.33 L284.69,1084.30 L284.43,1086.93 L284.07,1089.34 L283.61,1091.56 L283.05,1093.61 L282.39,1095.51 L281.64,1097.24 L280.78,1098.82 L279.84,1100.25 L278.80,1101.51 L277.66,1102.61 L276.44,1103.55 L275.11,1104.32 L273.67,1104.92 L272.09,1105.35 L270.31,1105.61 L267.90,1105.70 L265.49,1105.61 L263.71,1105.35 L262.13,1104.92 L260.69,1104.32 L259.36,1103.55 L258.14,1102.61 L257.00,1101.51 L255.96,1100.25 L255.02,1098.82 L254.16,1097.24 L253.41,1095.51 L252.75,1093.61 L252.19,1091.56 L251.73,1089.34 L251.37,1086.93 L251.11,1084.30 L250.95,1081.33 L250.90,1077.30 L250.95,1073.27 L251.11,1070.30 L251.37,1067.67 L251.73,1065.26 L252.19,1063.04 L252.75,1060.99 L253.41,1059.09 L254.16,1057.36 L255.02,1055.78 L255.96,1054.35 L257.00,1053.09 L258.14,1051.99 L259.36,1051.05 L260.69,1050.28 L262.13,1049.68 L263.71,1049.25 L265.49,1048.99 L267.90,1048.90 L270.31,1048.99 L272.09,1049.25 L273.67,1049.68 L275.11,1050.28 L276.44,1051.05 L277.66,1051.99 L278.80,1053.09 L279.84,1054.35 L280.78,1055.78 L281.64,1057.36 L282.39,1059.09 L283.05,1060.99 L283.61,1063.04 L284.07,1065.26 L284.43,1067.67 L284.69,1070.30 L284.85,1073.27ZM278.80,1077.30 L278.76,1079.98 L278.66,1082.17 L278.48,1084.20 L278.23,1086.09 L277.91,1087.86 L277.52,1089.53 L277.06,1091.08 L276.55,1092.51 L275.96,1093.83 L275.32,1095.02 L274.62,1096.08 L273.87,1097.01 L273.05,1097.81 L272.19,1098.46 L271.27,1098.98 L270.28,1099.34 L269.21,1099.57 L267.90,1099.64 L266.59,1099.57 L265.52,1099.34 L264.53,1098.98 L263.61,1098.46 L262.75,1097.81 L261.93,1097.01 L261.18,1096.08 L260.48,1095.02 L259.84,1093.83 L259.25,1092.51 L258.74,1091.08 L258.28,1089.53 L257.89,1087.86 L257.57,1086.09 L257.32,1084.20 L257.14,1082.17 L257.04,1079.98 L257.00,1077.30 L257.04,1074.62 L257.14,1072.43 L257.32,1070.40 L257.57,1068.51 L257.89,1066.74 L258.28,1065.07 L258.74,1063.52 L259.25,1062.09 L259.84,1060.77 L260.48,1059.58 L261.18,1058.52 L261.93,1057.59 L262.75,1056.79 L263.61,1056.14 L264.53,1055.62 L265.52,1055.26 L266.59,1055.03 L267.90,1054.96 L269.21,1055.03 L270.28,1055.26 L271.27,1055.62 L272.19,1056.14 L273.05,1056.79 L273.87,1057.59 L274.62,1058.52 L275.32,1059.58 L275.96,1060.77 L276.55,1062.09 L277.06,1063.52 L277.52,1065.07 L277.91,1066.74 L278.23,1068.51 L278.48,1070.40 L278.66,1072.43 L278.76,1074.62Z"/>
<path fill-rule="evenodd" d="M318.76,1048.90 L320.83,1048.90 L320.83,1087.10 L330.00,1087.10 L330.00,1093.86 L320.83,1093.86 L320.83,1105.70 L315.05,1105.70 L315.05,1093.86 L293.90,1093.86 L293.90,1091.45ZM314.57,1068.75 L315.05,1068.75 L315.05,1087.10 L303.73,1087.10Z"/>
<path fill-rule="evenodd" d="M342.99,1048.90 L366.81,1048.90 L366.81,1054.66 L346.83,1054.66 L346.83,1067.95 L349.00,1066.98 L356.46,1066.98 L360.80,1067.95 L362.49,1068.92 L368.98,1075.68 L371.87,1081.24 L371.87,1092.60 L368.98,1098.40 L364.64,1103.00 L360.80,1104.20 L358.63,1105.66 L349.24,1105.66 L345.15,1104.69 L341.06,1101.55 L339.13,1098.40 L338.20,1093.09 L338.20,1092.12 L343.71,1092.12 L344.91,1096.47 L346.12,1098.89 L349.24,1100.10 L358.63,1100.10 L366.09,1092.60 L366.09,1081.00 L364.40,1075.68 L359.59,1073.76 L356.46,1072.78 L353.57,1071.82 L349.24,1072.78 L347.55,1074.72 L341.06,1074.72 L341.06,1066.98 L342.02,1057.80 L342.99,1057.80Z"/>
<path fill-rule="evenodd" d="M197.10,1234.92 L209.10,1223.90 L211.00,1223.90 L211.00,1280.70 L205.50,1280.70 L205.50,1235.72 L200.60,1239.73 L197.10,1239.73Z"/>
<circle cx="236.25" cy="1275.45" r="5.25"/>
<path fill-rule="evenodd" d="M284.90,1252.30 L284.85,1256.33 L284.69,1259.30 L284.43,1261.93 L284.07,1264.34 L283.61,1266.56 L283.05,1268.61 L282.39,1270.51 L281.64,1272.24 L280.78,1273.82 L279.84,1275.25 L278.80,1276.51 L277.66,1277.61 L276.44,1278.55 L275.11,1279.32 L273.67,1279.92 L272.09,1280.35 L270.31,1280.61 L267.90,1280.70 L265.49,1280.61 L263.71,1280.35 L262.13,1279.92 L260.69,1279.32 L259.36,1278.55 L258.14,1277.61 L257.00,1276.51 L255.96,1275.25 L255.02,1273.82 L254.16,1272.24 L253.41,1270.51 L252.75,1268.61 L252.19,1266.56 L251.73,1264.34 L251.37,1261.93 L251.11,1259.30 L250.95,1256.33 L250.90,1252.30 L250.95,1248.27 L251.11,1245.30 L251.37,1242.67 L251.73,1240.26 L252.19,1238.04 L252.75,1235.99 L253.41,1234.09 L254.16,1232.36 L255.02,1230.78 L255.96,1229.35 L257.00,1228.09 L258.14,1226.99 L259.36,1226.05 L260.69,1225.28 L262.13,1224.68 L263.71,1224.25 L265.49,1223.99 L267.90,1223.90 L270.31,1223.99 L272.09,1224.25 L273.67,1224.68 L275.11,1225.28 L276.44,1226.05 L277.66,1226.99 L278.80,1228.09 L279.84,1229.35 L280.78,1230.78 L281.64,1232.36 L282.39,1234.09 L283.05,1235.99 L283.61,1238.04 L284.07,1240.26 L284.43,1242.67 L284.69,1245.30 L284.85,1248.27ZM278.80,1252.30 L278.76,1254.98 L278.66,1257.17 L278.48,1259.20 L278.23,1261.09 L277.91,1262.86 L277.52,1264.53 L277.06,1266.08 L276.55,1267.51 L275.96,1268.83 L275.32,1270.02 L274.62,1271.08 L273.87,1272.01 L273.05,1272.81 L272.19,1273.46 L271.27,1273.98 L270.28,1274.34 L269.21,1274.57 L267.90,1274.64 L266.59,1274.57 L265.52,1274.34 L264.53,1273.98 L263.61,1273.46 L262.75,1272.81 L261.93,1272.01 L261.18,1271.08 L260.48,1270.02 L259.84,1268.83 L259.25,1267.51 L258.74,1266.08 L258.28,1264.53 L257.89,1262.86 L257.57,1261.09 L257.32,1259.20 L257.14,1257.17 L257.04,1254.98 L257.00,1252.30 L257.04,1249.62 L257.14,1247.43 L257.32,1245.40 L257.57,1243.51 L257.89,1241.74 L258.28,1240.07 L258.74,1238.52 L259.25,1237.09 L259.84,1235.77 L260.48,1234.58 L261.18,1233.52 L261.93,1232.59 L262.75,1231.79 L263.61,1231.14 L264.53,1230.62 L265.52,1230.26 L266.59,1230.03 L267.90,1229.96 L269.21,1230.03 L270.28,1230.26 L271.27,1230.62 L272.19,1231.14 L273.05,1231.79 L273.87,1232.59 L274.62,1233.52 L275.32,1234.58 L275.96,1235.77 L276.55,1237.09 L277.06,1238.52 L277.52,1240.07 L277.91,1241.74 L278.23,1243.51 L278.48,1245.40 L278.66,1247.43 L278.76,1249.62Z"/>
<path fill-rule="evenodd" d="M318.76,1223.90 L320.83,1223.90 L320.83,1262.10 L330.00,1262.10 L330.00,1268.86 L320.83,1268.86 L320.83,1280.70 L315.05,1280.70 L315.05,1268.86 L293.90,1268.86 L293.90,1266.45ZM314.57,1243.75 L315.05,1243.75 L315.05,1262.10 L303.73,1262.10Z"/>
<path fill-rule="evenodd" d="M371.90,1252.30 L371.85,1256.33 L371.69,1259.30 L371.44,1261.93 L371.08,1264.34 L370.62,1266.56 L370.07,1268.61 L369.41,1270.51 L368.66,1272.24 L367.82,1273.82 L366.88,1275.25 L365.85,1276.51 L364.73,1277.61 L363.51,1278.55 L362.19,1279.32 L360.76,1279.92 L359.20,1280.35 L357.44,1280.61 L355.05,1280.70 L352.66,1280.61 L350.90,1280.35 L349.34,1279.92 L347.91,1279.32 L346.59,1278.55 L345.37,1277.61 L344.25,1276.51 L343.22,1275.25 L342.28,1273.82 L341.44,1272.24 L340.69,1270.51 L340.03,1268.61 L339.48,1266.56 L339.02,1264.34 L338.66,1261.93 L338.41,1259.30 L338.25,1256.33 L338.20,1252.30 L338.25,1248.27 L338.41,1245.30 L338.66,1242.67 L339.02,1240.26 L339.48,1238.04 L340.03,1235.99 L340.69,1234.09 L341.44,1232.36 L342.28,1230.78 L343.22,1229.35 L344.25,1228.09 L345.37,1226.99 L346.59,1226.05 L347.91,1225.28 L349.34,1224.68 L350.90,1224.25 L352.66,1223.99 L355.05,1223.90 L357.44,1223.99 L359.20,1224.25 L360.76,1224.68 L362.19,1225.28 L363.51,1226.05 L364.73,1226.99 L365.85,1228.09 L366.88,1229.35 L367.82,1230.78 L368.66,1232.36 L369.41,1234.09 L370.07,1235.99 L370.62,1238.04 L371.08,1240.26 L371.44,1242.67 L371.69,1245.30 L371.85,1248.27ZM365.85,1252.30 L365.82,1254.98 L365.71,1257.17 L365.53,1259.20 L365.28,1261.09 L364.97,1262.86 L364.58,1264.53 L364.13,1266.08 L363.62,1267.51 L363.04,1268.83 L362.41,1270.02 L361.71,1271.08 L360.96,1272.01 L360.16,1272.81 L359.30,1273.46 L358.39,1273.98 L357.41,1274.34 L356.34,1274.57 L355.05,1274.64 L353.76,1274.57 L352.69,1274.34 L351.71,1273.98 L350.80,1273.46 L349.94,1272.81 L349.14,1272.01 L348.39,1271.08 L347.69,1270.02 L347.06,1268.83 L346.48,1267.51 L345.97,1266.08 L345.52,1264.53 L345.13,1262.86 L344.82,1261.09 L344.57,1259.20 L344.39,1257.17 L344.28,1254.98 L344.25,1252.30 L344.28,1249.62 L344.39,1247.43 L344.57,1245.40 L344.82,1243.51 L345.13,1241.74 L345.52,1240.07 L345.97,1238.52 L346.48,1237.09 L347.06,1235.77 L347.69,1234.58 L348.39,1233.52 L349.14,1232.59 L349.94,1231.79 L350.80,1231.14 L351.71,1230.62 L352.69,1230.26 L353.76,1230.03 L355.05,1229.96 L356.34,1230.03 L357.41,1230.26 L358.39,1230.62 L359.30,1231.14 L360.16,1231.79 L360.96,1232.59 L361.71,1233.52 L362.41,1234.58 L363.04,1235.77 L363.62,1237.09 L364.13,1238.52 L364.58,1240.07 L364.97,1241.74 L365.28,1243.51 L365.53,1245.40 L365.71,1247.43 L365.82,1249.62Z"/>
<path fill-rule="evenodd" d="M197.10,1409.92 L209.10,1398.90 L211.00,1398.90 L211.00,1455.70 L205.50,1455.70 L205.50,1410.72 L200.60,1414.73 L197.10,1414.73Z"/>
<circle cx="236.25" cy="1450.45" r="5.25"/>
<path fill-rule="evenodd" d="M284.90,1427.30 L284.85,1431.33 L284.69,1434.30 L284.43,1436.93 L284.07,1439.34 L283.61,1441.56 L283.05,1443.61 L282.39,1445.51 L281.64,1447.24 L280.78,1448.82 L279.84,1450.25 L278.80,1451.51 L277.66,1452.61 L276.44,1453.55 L275.11,1454.32 L273.67,1454.92 L272.09,1455.35 L270.31,1455.61 L267.90,1455.70 L265.49,1455.61 L263.71,1455.35 L262.13,1454.92 L260.69,1454.32 L259.36,1453.55 L258.14,1452.61 L257.00,1451.51 L255.96,1450.25 L255.02,1448.82 L254.16,1447.24 L253.41,1445.51 L252.75,1443.61 L252.19,1441.56 L251.73,1439.34 L251.37,1436.93 L251.11,1434.30 L250.95,1431.33 L250.90,1427.30 L250.95,1423.27 L251.11,1420.30 L251.37,1417.67 L251.73,1415.26 L252.19,1413.04 L252.75,1410.99 L253.41,1409.09 L254.16,1407.36 L255.02,1405.78 L255.96,1404.35 L257.00,1403.09 L258.14,1401.99 L259.36,1401.05 L260.69,1400.28 L262.13,1399.68 L263.71,1399.25 L265.49,1398.99 L267.90,1398.90 L270.31,1398.99 L272.09,1399.25 L273.67,1399.68 L275.11,1400.28 L276.44,1401.05 L277.66,1401.99 L278.80,1403.09 L279.84,1404.35 L280.78,1405.78 L281.64,1407.36 L282.39,1409.09 L283.05,1410.99 L283.61,1413.04 L284.07,1415.26 L284.43,1417.67 L284.69,1420.30 L284.85,1423.27ZM278.80,1427.30 L278.76,1429.98 L278.66,1432.17 L278.48,1434.20 L278.23,1436.09 L277.91,1437.86 L277.52,1439.53 L277.06,1441.08 L276.55,1442.51 L275.96,1443.83 L275.32,1445.02 L274.62,1446.08 L273.87,1447.01 L273.05,1447.81 L272.19,1448.46 L271.27,1448.98 L270.28,1449.34 L269.21,1449.57 L267.90,1449.64 L266.59,1449.57 L265.52,1449.34 L264.53,1448.98 L263.61,1448.46 L262.75,1447.81 L261.93,1447.01 L261.18,1446.08 L260.48,1445.02 L259.84,1443.83 L259.25,1442.51 L258.74,1441.08 L258.28,1439.53 L257.89,1437.86 L257.57,1436.09 L257.32,1434.20 L257.14,1432.17 L257.04,1429.98 L257.00,1427.30 L257.04,1424.62 L257.14,1422.43 L257.32,1420.40 L257.57,1418.51 L257.89,1416.74 L258.28,1415.07 L258.74,1413.52 L259.25,1412.09 L259.84,1410.77 L260.48,1409.58 L261.18,1408.52 L261.93,1407.59 L262.75,1406.79 L263.61,1406.14 L264.53,1405.62 L265.52,1405.26 L266.59,1405.03 L267.90,1404.96 L269.21,1405.03 L270.28,1405.26 L271.27,1405.62 L272.19,1406.14 L273.05,1406.79 L273.87,1407.59 L274.62,1408.52 L275.32,1409.58 L275.96,1410.77 L276.55,1412.09 L277.06,1413.52 L277.52,1415.07 L277.91,1416.74 L278.23,1418.51 L278.48,1420.40 L278.66,1422.43 L278.76,1424.62Z"/>
<path fill-rule="evenodd" d="M298.80,1398.90 L326.80,1398.90 L326.80,1402.41 L314.40,1419.64 L321.30,1422.04 L326.80,1427.55 L328.80,1433.06 L328.80,1442.78 L326.80,1448.69 L321.30,1454.10 L316.60,1455.70 L304.80,1455.70 L300.20,1453.80 L296.60,1450.29 L294.80,1442.08 L299.40,1442.08 L301.70,1447.89 L306.00,1449.89 L315.40,1449.89 L322.50,1443.18 L322.70,1433.06 L316.20,1427.05 L313.50,1424.95 L304.90,1424.34 L318.00,1404.71 L298.80,1404.71Z"/>
<path fill-rule="evenodd" d="M342.99,1398.90 L366.81,1398.90 L366.81,1404.66 L346.83,1404.66 L346.83,1417.95 L349.00,1416.98 L356.46,1416.98 L360.80,1417.95 L362.49,1418.92 L368.98,1425.68 L371.87,1431.24 L371.87,1442.60 L368.98,1448.40 L364.64,1453.00 L360.80,1454.20 L358.63,1455.66 L349.24,1455.66 L345.15,1454.69 L341.06,1451.55 L339.13,1448.40 L338.20,1443.09 L338.20,1442.12 L343.71,1442.12 L344.91,1446.47 L346.12,1448.89 L349.24,1450.10 L358.63,1450.10 L366.09,1442.60 L366.09,1431.00 L364.40,1425.68 L359.59,1423.76 L356.46,1422.78 L353.57,1421.82 L349.24,1422.78 L347.55,1424.72 L341.06,1424.72 L341.06,1416.98 L342.02,1407.80 L342.99,1407.80Z"/>
<path fill-rule="evenodd" d="M396.00,1497.90 L424.00,1497.90 L424.00,1501.40 L411.60,1518.60 L418.50,1521.00 L424.00,1526.50 L426.00,1532.00 L426.00,1541.70 L424.00,1547.60 L418.50,1553.00 L413.80,1554.60 L402.00,1554.60 L397.40,1552.70 L393.80,1549.20 L392.00,1541.00 L396.60,1541.00 L398.90,1546.80 L403.20,1548.80 L412.60,1548.80 L419.70,1542.10 L419.90,1532.00 L413.40,1526.00 L410.70,1523.90 L402.10,1523.30 L415.20,1503.70 L396.00,1503.70Z"/>
<circle cx="441.00" cy="1549.50" r="5.00"/>
<path fill-rule="evenodd" d="M490.20,1526.25 L490.15,1530.28 L489.99,1533.24 L489.73,1535.87 L489.37,1538.27 L488.91,1540.48 L488.34,1542.53 L487.68,1544.42 L486.92,1546.16 L486.06,1547.74 L485.11,1549.16 L484.06,1550.42 L482.92,1551.52 L481.69,1552.45 L480.35,1553.22 L478.90,1553.82 L477.31,1554.25 L475.53,1554.51 L473.10,1554.60 L470.67,1554.51 L468.89,1554.25 L467.30,1553.82 L465.85,1553.22 L464.51,1552.45 L463.28,1551.52 L462.14,1550.42 L461.09,1549.16 L460.14,1547.74 L459.28,1546.16 L458.52,1544.42 L457.86,1542.53 L457.29,1540.48 L456.83,1538.27 L456.47,1535.87 L456.21,1533.24 L456.05,1530.28 L456.00,1526.25 L456.05,1522.22 L456.21,1519.26 L456.47,1516.63 L456.83,1514.23 L457.29,1512.02 L457.86,1509.97 L458.52,1508.08 L459.28,1506.34 L460.14,1504.76 L461.09,1503.34 L462.14,1502.08 L463.28,1500.98 L464.51,1500.05 L465.85,1499.28 L467.30,1498.68 L468.89,1498.25 L470.67,1497.99 L473.10,1497.90 L475.53,1497.99 L477.31,1498.25 L478.90,1498.68 L480.35,1499.28 L481.69,1500.05 L482.92,1500.98 L484.06,1502.08 L485.11,1503.34 L486.06,1504.76 L486.92,1506.34 L487.68,1508.08 L488.34,1509.97 L488.91,1512.02 L489.37,1514.23 L489.73,1516.63 L489.99,1519.26 L490.15,1522.22ZM484.06,1526.25 L484.03,1528.92 L483.92,1531.12 L483.74,1533.13 L483.49,1535.02 L483.17,1536.79 L482.78,1538.46 L482.32,1540.00 L481.80,1541.43 L481.21,1542.75 L480.57,1543.94 L479.86,1545.00 L479.10,1545.93 L478.28,1546.72 L477.41,1547.38 L476.48,1547.89 L475.49,1548.26 L474.41,1548.48 L473.10,1548.55 L471.79,1548.48 L470.71,1548.26 L469.72,1547.89 L468.79,1547.38 L467.92,1546.72 L467.10,1545.93 L466.34,1545.00 L465.63,1543.94 L464.99,1542.75 L464.40,1541.43 L463.88,1540.00 L463.42,1538.46 L463.03,1536.79 L462.71,1535.02 L462.46,1533.13 L462.28,1531.12 L462.17,1528.92 L462.14,1526.25 L462.17,1523.58 L462.28,1521.38 L462.46,1519.37 L462.71,1517.48 L463.03,1515.71 L463.42,1514.04 L463.88,1512.50 L464.40,1511.07 L464.99,1509.75 L465.63,1508.56 L466.34,1507.50 L467.10,1506.57 L467.92,1505.78 L468.79,1505.12 L469.72,1504.61 L470.71,1504.24 L471.79,1504.02 L473.10,1503.95 L474.41,1504.02 L475.49,1504.24 L476.48,1504.61 L477.41,1505.12 L478.28,1505.78 L479.10,1506.57 L479.86,1507.50 L480.57,1508.56 L481.21,1509.75 L481.80,1511.07 L482.32,1512.50 L482.78,1514.04 L483.17,1515.71 L483.49,1517.48 L483.74,1519.37 L483.92,1521.38 L484.03,1523.58Z"/>
<path fill-rule="evenodd" d="M1075.00,1497.90 L1103.00,1497.90 L1103.00,1501.40 L1090.60,1518.60 L1097.50,1521.00 L1103.00,1526.50 L1105.00,1532.00 L1105.00,1541.70 L1103.00,1547.60 L1097.50,1553.00 L1092.80,1554.60 L1081.00,1554.60 L1076.40,1552.70 L1072.80,1549.20 L1071.00,1541.00 L1075.60,1541.00 L1077.90,1546.80 L1082.20,1548.80 L1091.60,1548.80 L1098.70,1542.10 L1098.90,1532.00 L1092.40,1526.00 L1089.70,1523.90 L1081.10,1523.30 L1094.20,1503.70 L1075.00,1503.70Z"/>
<circle cx="1120.10" cy="1549.50" r="5.10"/>
<path fill-rule="evenodd" d="M1138.94,1497.90 L1166.53,1497.90 L1166.53,1501.40 L1154.31,1518.60 L1161.11,1521.00 L1166.53,1526.50 L1168.50,1532.00 L1168.50,1541.70 L1166.53,1547.60 L1161.11,1553.00 L1156.48,1554.60 L1144.85,1554.60 L1140.32,1552.70 L1136.77,1549.20 L1135.00,1541.00 L1139.53,1541.00 L1141.80,1546.80 L1146.04,1548.80 L1155.30,1548.80 L1162.29,1542.10 L1162.49,1532.00 L1156.09,1526.00 L1153.42,1523.90 L1144.95,1523.30 L1157.86,1503.70 L1138.94,1503.70Z"/>
<path fill-rule="evenodd" d="M1774.82,1497.90 L1802.99,1497.90 L1802.99,1501.40 L1790.52,1518.60 L1797.46,1521.00 L1802.99,1526.50 L1805.00,1532.00 L1805.00,1541.70 L1802.99,1547.60 L1797.46,1553.00 L1792.73,1554.60 L1780.86,1554.60 L1776.23,1552.70 L1772.61,1549.20 L1770.80,1541.00 L1775.43,1541.00 L1777.74,1546.80 L1782.07,1548.80 L1791.52,1548.80 L1798.66,1542.10 L1798.86,1532.00 L1792.33,1526.00 L1789.61,1523.90 L1780.96,1523.30 L1794.14,1503.70 L1774.82,1503.70Z"/>
<circle cx="1820.10" cy="1549.50" r="5.10"/>
<path fill-rule="evenodd" d="M1850.25,1497.90 L1854.60,1497.90 L1857.49,1499.54 L1860.87,1500.03 L1863.76,1501.96 L1864.97,1505.33 L1864.97,1508.48 L1860.14,1508.48 L1856.28,1505.33 L1853.63,1504.13 L1851.22,1503.65 L1846.88,1505.57 L1843.98,1511.12 L1842.77,1515.95 L1842.77,1520.78 L1844.94,1520.06 L1851.22,1517.89 L1855.56,1519.09 L1859.66,1521.26 L1864.72,1526.09 L1867.14,1529.95 L1868.10,1534.29 L1868.10,1540.57 L1866.65,1543.46 L1864.72,1547.56 L1859.66,1552.63 L1855.80,1554.56 L1848.32,1554.56 L1843.01,1552.63 L1837.95,1546.84 L1837.23,1540.57 L1836.02,1535.26 L1836.02,1521.74 L1837.23,1515.95 L1837.95,1509.20 L1839.88,1506.06 L1843.01,1500.76 L1848.32,1498.82ZM1851.46,1525.85 L1855.80,1525.85 L1859.42,1529.46 L1861.11,1531.88 L1861.11,1541.53 L1859.66,1543.94 L1855.80,1547.80 L1847.36,1547.80 L1842.77,1544.66 L1842.77,1535.26 L1842.77,1530.91 L1844.94,1528.01 L1848.32,1525.85Z"/>
<path fill-rule="evenodd" d="M1456.83,1171.56 L1456.83,1168.34 L1460.05,1162.19 L1462.20,1159.24 L1467.29,1156.03 L1476.67,1156.03 L1480.70,1158.17 L1483.64,1161.38 L1486.86,1167.54 L1486.86,1175.58 L1484.98,1179.59 L1481.77,1185.48 L1479.62,1188.16 L1475.60,1192.98 L1471.85,1197.80 L1464.62,1206.91 L1489.00,1206.91 L1489.00,1212.80 L1453.90,1212.80 L1456.83,1208.78 L1460.86,1203.16 L1464.07,1199.41 L1468.09,1194.58 L1472.12,1189.23 L1475.06,1185.48 L1477.47,1181.20 L1480.43,1174.78 L1480.43,1167.81 L1478.01,1163.52 L1474.26,1161.65 L1468.09,1161.65 L1464.62,1164.06 L1462.73,1167.81 L1462.73,1171.56Z"/>
<path fill-rule="evenodd" d="M1601.30,1322.80 L1604.30,1322.80 L1607.80,1329.90 L1618.40,1329.90 L1610.80,1315.80 L1609.00,1304.00 L1609.00,1292.20 L1610.80,1287.50 L1615.50,1281.60 L1622.60,1279.20 L1627.55,1278.00 L1632.50,1279.20 L1639.60,1281.60 L1644.30,1287.50 L1646.10,1292.20 L1646.10,1304.00 L1644.30,1315.80 L1636.70,1329.90 L1647.30,1329.90 L1650.80,1322.80 L1653.80,1322.80 L1649.60,1334.60 L1633.70,1334.60 L1633.70,1328.70 L1638.40,1316.90 L1639.60,1305.20 L1639.60,1294.50 L1636.70,1287.50 L1630.20,1284.50 L1624.90,1284.50 L1618.40,1287.50 L1615.50,1294.50 L1615.50,1305.20 L1616.70,1316.90 L1621.40,1328.70 L1621.40,1334.60 L1605.50,1334.60Z"/>
<path fill-rule="evenodd" d="M1508.79,1156.00 L1533.11,1156.00 L1533.11,1161.76 L1512.71,1161.76 L1512.71,1175.05 L1514.93,1174.08 L1522.54,1174.08 L1526.97,1175.05 L1528.69,1176.02 L1535.32,1182.78 L1538.27,1188.34 L1538.27,1199.70 L1535.32,1205.50 L1530.89,1210.10 L1526.97,1211.30 L1524.75,1212.76 L1515.17,1212.76 L1510.99,1211.79 L1506.82,1208.65 L1504.85,1205.50 L1503.90,1200.19 L1503.90,1199.22 L1509.52,1199.22 L1510.75,1203.57 L1511.98,1205.99 L1515.17,1207.20 L1524.75,1207.20 L1532.37,1199.70 L1532.37,1188.10 L1530.65,1182.78 L1525.73,1180.86 L1522.54,1179.88 L1519.59,1178.92 L1515.17,1179.88 L1513.45,1181.82 L1506.82,1181.82 L1506.82,1174.08 L1507.80,1164.90 L1508.79,1164.90Z"/>
<path fill-rule="evenodd" d="M1460.10,1288.84 L1472.10,1277.80 L1474.00,1277.80 L1474.00,1334.70 L1468.50,1334.70 L1468.50,1289.64 L1463.60,1293.66 L1460.10,1293.66Z"/>
<path fill-rule="evenodd" d="M1534.80,1306.25 L1534.75,1310.29 L1534.59,1313.26 L1534.34,1315.90 L1533.98,1318.31 L1533.52,1320.53 L1532.97,1322.59 L1532.31,1324.49 L1531.56,1326.23 L1530.72,1327.81 L1529.78,1329.24 L1528.75,1330.50 L1527.63,1331.61 L1526.41,1332.55 L1525.09,1333.32 L1523.66,1333.92 L1522.10,1334.35 L1520.34,1334.61 L1517.95,1334.70 L1515.56,1334.61 L1513.80,1334.35 L1512.24,1333.92 L1510.81,1333.32 L1509.49,1332.55 L1508.27,1331.61 L1507.15,1330.50 L1506.12,1329.24 L1505.18,1327.81 L1504.34,1326.23 L1503.59,1324.49 L1502.93,1322.59 L1502.38,1320.53 L1501.92,1318.31 L1501.56,1315.90 L1501.31,1313.26 L1501.15,1310.29 L1501.10,1306.25 L1501.15,1302.21 L1501.31,1299.24 L1501.56,1296.60 L1501.92,1294.19 L1502.38,1291.97 L1502.93,1289.91 L1503.59,1288.01 L1504.34,1286.27 L1505.18,1284.69 L1506.12,1283.26 L1507.15,1282.00 L1508.27,1280.89 L1509.49,1279.95 L1510.81,1279.18 L1512.24,1278.58 L1513.80,1278.15 L1515.56,1277.89 L1517.95,1277.80 L1520.34,1277.89 L1522.10,1278.15 L1523.66,1278.58 L1525.09,1279.18 L1526.41,1279.95 L1527.63,1280.89 L1528.75,1282.00 L1529.78,1283.26 L1530.72,1284.69 L1531.56,1286.27 L1532.31,1288.01 L1532.97,1289.91 L1533.52,1291.97 L1533.98,1294.19 L1534.34,1296.60 L1534.59,1299.24 L1534.75,1302.21ZM1528.75,1306.25 L1528.72,1308.93 L1528.61,1311.13 L1528.43,1313.16 L1528.18,1315.05 L1527.87,1316.83 L1527.48,1318.50 L1527.03,1320.05 L1526.52,1321.49 L1525.94,1322.81 L1525.31,1324.00 L1524.61,1325.06 L1523.86,1326.00 L1523.06,1326.79 L1522.20,1327.45 L1521.29,1327.96 L1520.31,1328.33 L1519.24,1328.55 L1517.95,1328.63 L1516.66,1328.55 L1515.59,1328.33 L1514.61,1327.96 L1513.70,1327.45 L1512.84,1326.79 L1512.04,1326.00 L1511.29,1325.06 L1510.59,1324.00 L1509.96,1322.81 L1509.38,1321.49 L1508.87,1320.05 L1508.42,1318.50 L1508.03,1316.83 L1507.72,1315.05 L1507.47,1313.16 L1507.29,1311.13 L1507.18,1308.93 L1507.15,1306.25 L1507.18,1303.57 L1507.29,1301.37 L1507.47,1299.34 L1507.72,1297.45 L1508.03,1295.67 L1508.42,1294.00 L1508.87,1292.45 L1509.38,1291.01 L1509.96,1289.69 L1510.59,1288.50 L1511.29,1287.44 L1512.04,1286.50 L1512.84,1285.71 L1513.70,1285.05 L1514.61,1284.54 L1515.59,1284.17 L1516.66,1283.95 L1517.95,1283.87 L1519.24,1283.95 L1520.31,1284.17 L1521.29,1284.54 L1522.20,1285.05 L1523.06,1285.71 L1523.86,1286.50 L1524.61,1287.44 L1525.31,1288.50 L1525.94,1289.69 L1526.52,1291.01 L1527.03,1292.45 L1527.48,1294.00 L1527.87,1295.67 L1528.18,1297.45 L1528.43,1299.34 L1528.61,1301.37 L1528.72,1303.57Z"/>
<path fill-rule="evenodd" d="M1584.90,1306.25 L1584.85,1310.29 L1584.69,1313.26 L1584.44,1315.90 L1584.08,1318.31 L1583.62,1320.53 L1583.06,1322.59 L1582.41,1324.49 L1581.65,1326.23 L1580.81,1327.81 L1579.87,1329.24 L1578.83,1330.50 L1577.71,1331.61 L1576.48,1332.55 L1575.16,1333.32 L1573.73,1333.92 L1572.17,1334.35 L1570.40,1334.61 L1568.00,1334.70 L1565.60,1334.61 L1563.83,1334.35 L1562.27,1333.92 L1560.84,1333.32 L1559.52,1332.55 L1558.29,1331.61 L1557.17,1330.50 L1556.13,1329.24 L1555.19,1327.81 L1554.35,1326.23 L1553.59,1324.49 L1552.94,1322.59 L1552.38,1320.53 L1551.92,1318.31 L1551.56,1315.90 L1551.31,1313.26 L1551.15,1310.29 L1551.10,1306.25 L1551.15,1302.21 L1551.31,1299.24 L1551.56,1296.60 L1551.92,1294.19 L1552.38,1291.97 L1552.94,1289.91 L1553.59,1288.01 L1554.35,1286.27 L1555.19,1284.69 L1556.13,1283.26 L1557.17,1282.00 L1558.29,1280.89 L1559.52,1279.95 L1560.84,1279.18 L1562.27,1278.58 L1563.83,1278.15 L1565.60,1277.89 L1568.00,1277.80 L1570.40,1277.89 L1572.17,1278.15 L1573.73,1278.58 L1575.16,1279.18 L1576.48,1279.95 L1577.71,1280.89 L1578.83,1282.00 L1579.87,1283.26 L1580.81,1284.69 L1581.65,1286.27 L1582.41,1288.01 L1583.06,1289.91 L1583.62,1291.97 L1584.08,1294.19 L1584.44,1296.60 L1584.69,1299.24 L1584.85,1302.21ZM1578.84,1306.25 L1578.80,1308.93 L1578.69,1311.13 L1578.51,1313.16 L1578.27,1315.05 L1577.95,1316.83 L1577.56,1318.50 L1577.11,1320.05 L1576.59,1321.49 L1576.02,1322.81 L1575.38,1324.00 L1574.68,1325.06 L1573.93,1326.00 L1573.12,1326.79 L1572.26,1327.45 L1571.35,1327.96 L1570.36,1328.33 L1569.30,1328.55 L1568.00,1328.63 L1566.70,1328.55 L1565.64,1328.33 L1564.65,1327.96 L1563.74,1327.45 L1562.88,1326.79 L1562.07,1326.00 L1561.32,1325.06 L1560.62,1324.00 L1559.98,1322.81 L1559.41,1321.49 L1558.89,1320.05 L1558.44,1318.50 L1558.05,1316.83 L1557.73,1315.05 L1557.49,1313.16 L1557.31,1311.13 L1557.20,1308.93 L1557.16,1306.25 L1557.20,1303.57 L1557.31,1301.37 L1557.49,1299.34 L1557.73,1297.45 L1558.05,1295.67 L1558.44,1294.00 L1558.89,1292.45 L1559.41,1291.01 L1559.98,1289.69 L1560.62,1288.50 L1561.32,1287.44 L1562.07,1286.50 L1562.88,1285.71 L1563.74,1285.05 L1564.65,1284.54 L1565.64,1284.17 L1566.70,1283.95 L1568.00,1283.87 L1569.30,1283.95 L1570.36,1284.17 L1571.35,1284.54 L1572.26,1285.05 L1573.12,1285.71 L1573.93,1286.50 L1574.68,1287.44 L1575.38,1288.50 L1576.02,1289.69 L1576.59,1291.01 L1577.11,1292.45 L1577.56,1294.00 L1577.95,1295.67 L1578.27,1297.45 L1578.51,1299.34 L1578.69,1301.37 L1578.80,1303.57Z"/>
</g>
<g>
<text transform="matrix(0.7472 0 0 1.0292 521.56 1706.17)" stroke="#fff" stroke-width="0.393" stroke-linejoin="round">V</text>
<text transform="matrix(0.6527 0 0 0.8981 563.31 1735.03)" stroke="#000" stroke-width="0.430" stroke-linejoin="round">C</text>
<text transform="matrix(0.6442 0 0 0.8976 603.56 1735.02)" stroke="#000" stroke-width="0.474" stroke-linejoin="round">C</text>
<text transform="matrix(0.9414 0 0 1.4187 687.39 1716.29)" stroke="#fff" stroke-width="0.512" stroke-linejoin="round">−</text>
<text transform="matrix(0.7640 0 0 1.0253 775.72 1706.07)" stroke="#fff" stroke-width="0.147" stroke-linejoin="round">P</text>
<text transform="matrix(0.8358 0 0 0.8938 818.26 1705.24)" stroke="#000" stroke-width="0.148" stroke-linejoin="round">o</text>
<text transform="matrix(0.7889 0 0 0.9138 861.13 1705.66)" stroke="#000" stroke-width="0.799" stroke-linejoin="round">w</text>
<text transform="matrix(0.8264 0 0 0.8881 912.38 1705.12)" stroke="#000" stroke-width="0.440" stroke-linejoin="round">e</text>
<text transform="matrix(1.2142 0 0 0.9405 951.86 1706.59)" stroke="#fff" stroke-width="1.109" stroke-linejoin="round">r</text>
<text transform="matrix(0.8478 0 0 1.0072 1023.25 1705.59)" stroke="#fff" stroke-width="0.808" stroke-linejoin="round">S</text>
<text transform="matrix(0.8737 0 0 0.9058 1072.62 1705.14)" stroke="#000" stroke-width="0.347" stroke-linejoin="round">u</text>
<text transform="matrix(0.8951 0 0 0.9613 1119.28 1708.04)" stroke="#fff" stroke-width="0.002" stroke-linejoin="round">p</text>
<text transform="matrix(0.8828 0 0 0.9606 1163.57 1708.03)" stroke="#000" stroke-width="0.042" stroke-linejoin="round">p</text>
<text transform="matrix(0.7701 0 0 0.9749 1208.74 1706.11)" stroke="#fff" stroke-width="0.247" stroke-linejoin="round">l</text>
<text transform="matrix(0.8408 0 0 0.9791 1230.67 1707.91)" stroke="#fff" stroke-width="0.371" stroke-linejoin="round">y</text>
<text transform="matrix(0.7472 0 0 1.0292 1308.56 1706.17)" stroke="#fff" stroke-width="0.393" stroke-linejoin="round">V</text>
<text transform="matrix(0.8068 0 0 0.8915 1354.40 1705.19)" stroke="#000" stroke-width="0.266" stroke-linejoin="round">o</text>
<text transform="matrix(1.0474 0 0 0.9861 1394.62 1706.43)" stroke="#fff" stroke-width="0.851" stroke-linejoin="round">l</text>
<text transform="matrix(1.0741 0 0 1.0936 1418.23 1705.79)" stroke="#fff" stroke-width="0.871" stroke-linejoin="round">t</text>
<text transform="matrix(0.8491 0 0 0.8897 1446.17 1705.15)" stroke="#000" stroke-width="0.354" stroke-linejoin="round">a</text>
<text transform="matrix(0.8596 0 0 0.9613 1490.15 1708.00)" stroke="#000" stroke-width="0.083" stroke-linejoin="round">g</text>
<text transform="matrix(0.8264 0 0 0.8881 1534.28 1705.12)" stroke="#000" stroke-width="0.440" stroke-linejoin="round">e</text>
<text transform="matrix(1.1797 0 0 1.1434 1610.34 1700.97)" stroke="#fff" stroke-width="1.742" stroke-linejoin="round">(</text>
<text transform="matrix(0.7452 0 0 1.0290 1647.67 1706.17)" stroke="#fff" stroke-width="0.386" stroke-linejoin="round">V</text>
<text transform="matrix(1.1302 0 0 1.1414 1694.53 1700.93)" stroke="#fff" stroke-width="1.648" stroke-linejoin="round">)</text>
<text transform="rotate(-90) matrix(0.7480 0 0 1.0427 -1290.46 71.19)" stroke="#fff" stroke-width="0.438" stroke-linejoin="round">V</text>
<text transform="rotate(-90) matrix(0.5866 0 0 0.8904 -1247.94 100.02)" stroke="#000" stroke-width="0.783" stroke-linejoin="round">O</text>
<text transform="rotate(-90) matrix(0.7311 0 0 0.9228 -1205.69 100.89)" stroke="#000" stroke-width="0.259" stroke-linejoin="round">L</text>
<text transform="rotate(-90) matrix(0.9074 0 0 1.2744 -1125.71 76.40)" stroke="#fff" stroke-width="0.249" stroke-linejoin="round">−</text>
<text transform="rotate(-90) matrix(0.6890 0 0 1.0085 -1040.47 70.27)" stroke="#fff" stroke-width="0.149" stroke-linejoin="round">O</text>
<text transform="rotate(-90) matrix(0.8667 0 0 0.8979 -991.63 70.12)" stroke="#000" stroke-width="0.394" stroke-linejoin="round">u</text>
<text transform="rotate(-90) matrix(0.9957 0 0 1.1031 -946.18 70.68)" stroke="#fff" stroke-width="0.708" stroke-linejoin="round">t</text>
<text transform="rotate(-90) matrix(0.8598 0 0 0.9366 -915.25 72.37)" stroke="#000" stroke-width="0.186" stroke-linejoin="round">p</text>
<text transform="rotate(-90) matrix(0.8667 0 0 0.8979 -871.13 70.12)" stroke="#000" stroke-width="0.394" stroke-linejoin="round">u</text>
<text transform="rotate(-90) matrix(1.0531 0 0 1.1064 -825.73 70.77)" stroke="#fff" stroke-width="0.847" stroke-linejoin="round">t</text>
<text transform="rotate(-90) matrix(0.8158 0 0 1.0424 -758.34 71.19)" stroke="#fff" stroke-width="0.406" stroke-linejoin="round">L</text>
<text transform="rotate(-90) matrix(0.7946 0 0 0.8834 -717.03 70.17)" stroke="#000" stroke-width="0.339" stroke-linejoin="round">o</text>
<text transform="rotate(-90) matrix(0.7342 0 0 0.9026 -674.09 70.57)" stroke="#000" stroke-width="1.047" stroke-linejoin="round">w</text>
<text transform="rotate(-90) matrix(0.7358 0 0 1.0419 -584.13 71.17)" stroke="#fff" stroke-width="0.394" stroke-linejoin="round">V</text>
<text transform="rotate(-90) matrix(0.8353 0 0 0.8865 -538.73 70.23)" stroke="#000" stroke-width="0.171" stroke-linejoin="round">o</text>
<text transform="rotate(-90) matrix(0.9681 0 0 0.9955 -497.97 71.35)" stroke="#fff" stroke-width="0.720" stroke-linejoin="round">l</text>
<text transform="rotate(-90) matrix(1.0875 0 0 1.1084 -475.63 70.82)" stroke="#fff" stroke-width="0.927" stroke-linejoin="round">t</text>
<text transform="rotate(-90) matrix(0.8274 0 0 0.8808 -447.31 70.11)" stroke="#000" stroke-width="0.465" stroke-linejoin="round">a</text>
<text transform="rotate(-90) matrix(1.0446 0 0 0.9488 -411.35 72.49)" stroke="#fff" stroke-width="0.484" stroke-linejoin="round">g</text>
<text transform="rotate(-90) matrix(0.9952 0 0 0.8935 -367.46 70.38)" stroke="#fff" stroke-width="0.169" stroke-linejoin="round">e</text>
<text transform="rotate(-90) matrix(1.0834 0 0 1.1228 -282.22 65.24)" stroke="#fff" stroke-width="1.524" stroke-linejoin="round">(</text>
<text transform="rotate(-90) matrix(0.7317 0 0 1.0416 -245.42 71.17)" stroke="#fff" stroke-width="0.379" stroke-linejoin="round">V</text>
<text transform="rotate(-90) matrix(1.1220 0 0 1.1243 -198.42 65.28)" stroke="#fff" stroke-width="1.601" stroke-linejoin="round">)</text>
<text transform="matrix(0.7090 0 0 1.0297 1235.64 1212.79)" stroke="#000" stroke-width="0.032" stroke-linejoin="round">T</text>
<text transform="matrix(0.6281 0 0 0.9106 1274.19 1242.41)" stroke="#000" stroke-width="1.032" stroke-linejoin="round">A</text>
<text transform="matrix(1.0261 0 0 0.9729 1357.10 1210.06)" stroke="#000" stroke-width="0.018" stroke-linejoin="round">=</text>
<text transform="matrix(1.5152 0 0 1.5752 1547.29 1239.30)" stroke="#fff" stroke-width="0.630" stroke-linejoin="round">°</text>
<text transform="matrix(0.7354 0 0 1.0056 1597.88 1212.04)" stroke="#fff" stroke-width="0.301" stroke-linejoin="round">C</text>
<text transform="matrix(0.6914 0 0 1.0345 1232.39 1334.97)" stroke="#000" stroke-width="0.072" stroke-linejoin="round">R</text>
<text transform="matrix(0.7623 0 0 0.9228 1269.05 1363.84)" stroke="#000" stroke-width="0.133" stroke-linejoin="round">L</text>
<text transform="matrix(0.9947 0 0 0.9139 1354.33 1329.96)" stroke="#000" stroke-width="0.250" stroke-linejoin="round">=</text>
</g>
</svg>
</body></html>
